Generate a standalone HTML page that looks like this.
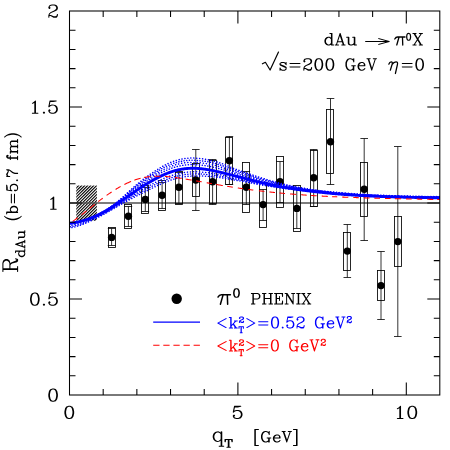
<!DOCTYPE html><html><head><meta charset="utf-8"><style>html,body{margin:0;padding:0;background:#fff;}svg{display:block;font-family:"Liberation Serif",serif;}</style></head><body>
<svg width="450" height="450" viewBox="0 0 450 450">
<rect width="450" height="450" fill="#fff"/>
<defs><clipPath id="hc"><rect x="76.2" y="185.5" width="20.7" height="35.3"/></clipPath></defs>
<g clip-path="url(#hc)" stroke="#000" stroke-width="1.1">
<line x1="-43.80" y1="221" x2="-7.80" y2="185"/>
<line x1="-40.80" y1="221" x2="-4.80" y2="185"/>
<line x1="-37.80" y1="221" x2="-1.80" y2="185"/>
<line x1="-34.80" y1="221" x2="1.20" y2="185"/>
<line x1="-31.80" y1="221" x2="4.20" y2="185"/>
<line x1="-28.80" y1="221" x2="7.20" y2="185"/>
<line x1="-25.80" y1="221" x2="10.20" y2="185"/>
<line x1="-22.80" y1="221" x2="13.20" y2="185"/>
<line x1="-19.80" y1="221" x2="16.20" y2="185"/>
<line x1="-16.80" y1="221" x2="19.20" y2="185"/>
<line x1="-13.80" y1="221" x2="22.20" y2="185"/>
<line x1="-10.80" y1="221" x2="25.20" y2="185"/>
<line x1="-7.80" y1="221" x2="28.20" y2="185"/>
<line x1="-4.80" y1="221" x2="31.20" y2="185"/>
<line x1="-1.80" y1="221" x2="34.20" y2="185"/>
<line x1="1.20" y1="221" x2="37.20" y2="185"/>
<line x1="4.20" y1="221" x2="40.20" y2="185"/>
<line x1="7.20" y1="221" x2="43.20" y2="185"/>
<line x1="10.20" y1="221" x2="46.20" y2="185"/>
<line x1="13.20" y1="221" x2="49.20" y2="185"/>
<line x1="16.20" y1="221" x2="52.20" y2="185"/>
<line x1="19.20" y1="221" x2="55.20" y2="185"/>
<line x1="22.20" y1="221" x2="58.20" y2="185"/>
<line x1="25.20" y1="221" x2="61.20" y2="185"/>
<line x1="28.20" y1="221" x2="64.20" y2="185"/>
<line x1="31.20" y1="221" x2="67.20" y2="185"/>
<line x1="34.20" y1="221" x2="70.20" y2="185"/>
<line x1="37.20" y1="221" x2="73.20" y2="185"/>
<line x1="40.20" y1="221" x2="76.20" y2="185"/>
<line x1="43.20" y1="221" x2="79.20" y2="185"/>
<line x1="46.20" y1="221" x2="82.20" y2="185"/>
<line x1="49.20" y1="221" x2="85.20" y2="185"/>
<line x1="52.20" y1="221" x2="88.20" y2="185"/>
<line x1="55.20" y1="221" x2="91.20" y2="185"/>
<line x1="58.20" y1="221" x2="94.20" y2="185"/>
<line x1="61.20" y1="221" x2="97.20" y2="185"/>
<line x1="64.20" y1="221" x2="100.20" y2="185"/>
<line x1="67.20" y1="221" x2="103.20" y2="185"/>
<line x1="70.20" y1="221" x2="106.20" y2="185"/>
<line x1="73.20" y1="221" x2="109.20" y2="185"/>
<line x1="76.20" y1="221" x2="112.20" y2="185"/>
<line x1="79.20" y1="221" x2="115.20" y2="185"/>
<line x1="82.20" y1="221" x2="118.20" y2="185"/>
<line x1="85.20" y1="221" x2="121.20" y2="185"/>
<line x1="88.20" y1="221" x2="124.20" y2="185"/>
<line x1="91.20" y1="221" x2="127.20" y2="185"/>
<line x1="94.20" y1="221" x2="130.20" y2="185"/>
<line x1="97.20" y1="221" x2="133.20" y2="185"/>
<line x1="100.20" y1="221" x2="136.20" y2="185"/>
<line x1="103.20" y1="221" x2="139.20" y2="185"/>
<line x1="106.20" y1="221" x2="142.20" y2="185"/>
<line x1="109.20" y1="221" x2="145.20" y2="185"/>
<line x1="112.20" y1="221" x2="148.20" y2="185"/>
<line x1="115.20" y1="221" x2="151.20" y2="185"/>
<line x1="118.20" y1="221" x2="154.20" y2="185"/>
<line x1="121.20" y1="221" x2="157.20" y2="185"/>
<line x1="124.20" y1="221" x2="160.20" y2="185"/>
<line x1="127.20" y1="221" x2="163.20" y2="185"/>
<line x1="130.20" y1="221" x2="166.20" y2="185"/>
<line x1="133.20" y1="221" x2="169.20" y2="185"/>
<line x1="136.20" y1="221" x2="172.20" y2="185"/>
<line x1="139.20" y1="221" x2="175.20" y2="185"/>
<line x1="142.20" y1="221" x2="178.20" y2="185"/>
<line x1="145.20" y1="221" x2="181.20" y2="185"/>
<line x1="148.20" y1="221" x2="184.20" y2="185"/>
<line x1="151.20" y1="221" x2="187.20" y2="185"/>
<line x1="154.20" y1="221" x2="190.20" y2="185"/>
<line x1="157.20" y1="221" x2="193.20" y2="185"/>
<line x1="160.20" y1="221" x2="196.20" y2="185"/>
<line x1="163.20" y1="221" x2="199.20" y2="185"/>
<line x1="166.20" y1="221" x2="202.20" y2="185"/>
<line x1="169.20" y1="221" x2="205.20" y2="185"/>
<line x1="172.20" y1="221" x2="208.20" y2="185"/>
<line x1="175.20" y1="221" x2="211.20" y2="185"/>
<line x1="178.20" y1="221" x2="214.20" y2="185"/>
<line x1="181.20" y1="221" x2="217.20" y2="185"/>
<line x1="184.20" y1="221" x2="220.20" y2="185"/>
<line x1="187.20" y1="221" x2="223.20" y2="185"/>
<line x1="190.20" y1="221" x2="226.20" y2="185"/>
<line x1="193.20" y1="221" x2="229.20" y2="185"/>
</g>
<line x1="69.5" y1="203" x2="439.8" y2="203" stroke="#505050" stroke-width="1.3"/>
<g stroke="#000" stroke-width="0.85" fill="none">
<rect x="108.5" y="227.5" width="7" height="20.0"/>
<path stroke-width="0.8" d="M111.60,228.5 V245.5 M107.80,228.5 h7.6 M107.80,245.5 h7.6"/>
<rect x="124.5" y="204.5" width="7" height="24.0"/>
<path stroke-width="0.8" d="M128.40,206.5 V226.5 M124.60,206.5 h7.6 M124.60,226.5 h7.6"/>
<rect x="141.5" y="185.5" width="7" height="28.0"/>
<path stroke-width="0.8" d="M145.30,187.5 V211.5 M141.50,187.5 h7.6 M141.50,211.5 h7.6"/>
<rect x="158.5" y="180.5" width="7" height="30.0"/>
<path stroke-width="0.8" d="M162.10,182.5 V208.5 M158.30,182.5 h7.6 M158.30,208.5 h7.6"/>
<rect x="175.5" y="171.5" width="7" height="33.0"/>
<path stroke-width="0.8" d="M178.90,172.5 V203.5 M175.10,172.5 h7.6 M175.10,203.5 h7.6"/>
<rect x="192.5" y="163.5" width="7" height="33.0"/>
<path stroke-width="0.8" d="M195.80,149.5 V210.5 M192.00,149.5 h7.6 M192.00,210.5 h7.6"/>
<rect x="209.5" y="160.5" width="7" height="43.0"/>
<path stroke-width="0.8" d="M212.60,159.5 V204.5 M208.80,159.5 h7.6 M208.80,204.5 h7.6"/>
<rect x="225.5" y="137.5" width="7" height="47.0"/>
<path stroke-width="0.8" d="M229.40,136.5 V184.5 M225.60,136.5 h7.6 M225.60,184.5 h7.6"/>
<rect x="242.5" y="162.5" width="7" height="50.0"/>
<path stroke-width="0.8" d="M246.30,171.5 V204.5 M242.50,171.5 h7.6 M242.50,204.5 h7.6"/>
<rect x="259.5" y="182.5" width="7" height="45.0"/>
<path stroke-width="0.8" d="M263.10,189.5 V220.5 M259.30,189.5 h7.6 M259.30,220.5 h7.6"/>
<rect x="276.5" y="156.5" width="7" height="51.0"/>
<path stroke-width="0.8" d="M280.00,161.5 V202.5 M276.20,161.5 h7.6 M276.20,202.5 h7.6"/>
<rect x="293.5" y="185.5" width="7" height="46.0"/>
<path stroke-width="0.8" d="M296.80,188.5 V228.5 M293.00,188.5 h7.6 M293.00,228.5 h7.6"/>
<rect x="310.5" y="150.5" width="7" height="56.0"/>
<path stroke-width="0.8" d="M313.70,149.5 V206.5 M309.90,149.5 h7.6 M309.90,206.5 h7.6"/>
<rect x="326.5" y="109.5" width="7" height="64.0"/>
<path stroke-width="0.8" d="M330.50,98.5 V184.5 M326.70,98.5 h7.6 M326.70,184.5 h7.6"/>
<rect x="343.5" y="232.5" width="7" height="38.0"/>
<path stroke-width="0.8" d="M347.30,224.5 V277.5 M343.50,224.5 h7.6 M343.50,277.5 h7.6"/>
<rect x="360.5" y="162.5" width="7" height="54.0"/>
<path stroke-width="0.8" d="M364.20,138.5 V240.5 M360.40,138.5 h7.6 M360.40,240.5 h7.6"/>
<rect x="377.5" y="270.5" width="7" height="30.0"/>
<path stroke-width="0.8" d="M381.00,251.5 V319.5 M377.20,251.5 h7.6 M377.20,319.5 h7.6"/>
<rect x="394.5" y="216.5" width="7" height="50.0"/>
<path stroke-width="0.8" d="M397.80,146.5 V336.5 M394.00,146.5 h7.6 M394.00,336.5 h7.6"/>
</g>
<circle cx="111.60" cy="237.40" r="3.7" fill="#000"/>
<circle cx="128.40" cy="216.30" r="3.7" fill="#000"/>
<circle cx="145.30" cy="199.40" r="3.7" fill="#000"/>
<circle cx="162.10" cy="195.20" r="3.7" fill="#000"/>
<circle cx="178.90" cy="187.30" r="3.7" fill="#000"/>
<circle cx="195.80" cy="180.00" r="3.7" fill="#000"/>
<circle cx="212.60" cy="181.70" r="3.7" fill="#000"/>
<circle cx="229.40" cy="160.70" r="3.7" fill="#000"/>
<circle cx="246.30" cy="187.30" r="3.7" fill="#000"/>
<circle cx="263.10" cy="204.60" r="3.7" fill="#000"/>
<circle cx="280.00" cy="181.70" r="3.7" fill="#000"/>
<circle cx="296.80" cy="208.40" r="3.7" fill="#000"/>
<circle cx="313.70" cy="177.80" r="3.7" fill="#000"/>
<circle cx="330.50" cy="141.80" r="3.7" fill="#000"/>
<circle cx="347.30" cy="251.10" r="3.7" fill="#000"/>
<circle cx="364.20" cy="189.30" r="3.7" fill="#000"/>
<circle cx="381.00" cy="285.60" r="3.7" fill="#000"/>
<circle cx="397.80" cy="241.60" r="3.7" fill="#000"/>
<defs><clipPath id="pc"><rect x="69.5" y="11.0" width="370.3" height="384.0"/></clipPath></defs>
<g clip-path="url(#pc)" fill="none">
<path d="M69.50,223.43 L70.24,223.34 L70.99,223.25 L71.73,223.15 L72.47,223.04 L73.21,222.92 L73.96,222.80 L74.70,222.67 L75.44,222.53 L76.18,222.38 L76.93,222.23 L77.67,222.07 L78.41,221.90 L79.15,221.72 L79.90,221.54 L80.64,221.35 L81.38,221.15 L82.13,220.94 L82.87,220.73 L83.61,220.51 L84.35,220.28 L85.10,220.04 L85.84,219.80 L86.58,219.55 L87.32,219.29 L88.07,219.03 L88.81,218.76 L89.55,218.48 L90.30,218.19 L91.04,217.90 L91.78,217.60 L92.52,217.29 L93.27,216.98 L94.01,216.66 L94.75,216.33 L95.49,216.00 L96.24,215.66 L96.98,215.31 L97.72,214.95 L98.46,214.59 L99.21,214.22 L99.95,213.85 L100.69,213.47 L101.44,213.07 L102.18,212.67 L102.92,212.27 L103.66,211.85 L104.41,211.42 L105.15,210.99 L105.89,210.55 L106.63,210.10 L107.38,209.65 L108.12,209.19 L108.86,208.72 L109.61,208.25 L110.35,207.77 L111.09,207.28 L111.83,206.79 L112.58,206.30 L113.32,205.80 L114.06,205.29 L114.80,204.78 L115.55,204.26 L116.29,203.74 L117.03,203.21 L117.77,202.68 L118.52,202.15 L119.26,201.61 L120.00,201.06 L120.75,200.51 L121.49,199.96 L122.23,199.40 L122.97,198.84 L123.72,198.27 L124.46,197.70 L125.20,197.12 L125.94,196.54 L126.69,195.96 L127.43,195.38 L128.17,194.80 L128.91,194.22 L129.66,193.64 L130.40,193.07 L131.14,192.50 L131.89,191.93 L132.63,191.37 L133.37,190.81 L134.11,190.26 L134.86,189.70 L135.60,189.15 L136.34,188.60 L137.08,188.06 L137.83,187.51 L138.57,186.97 L139.31,186.44 L140.06,185.91 L140.80,185.38 L141.54,184.86 L142.28,184.34 L143.03,183.82 L143.77,183.31 L144.51,182.81 L145.25,182.31 L146.00,181.81 L146.74,181.32 L147.48,180.84 L148.22,180.36 L148.97,179.88 L149.71,179.42 L150.45,178.95 L151.20,178.49 L151.94,178.04 L152.68,177.59 L153.42,177.15 L154.17,176.71 L154.91,176.27 L155.65,175.84 L156.39,175.42 L157.14,175.00 L157.88,174.58 L158.62,174.17 L159.36,173.77 L160.11,173.37 L160.85,172.98 L161.59,172.60 L162.34,172.22 L163.08,171.86 L163.82,171.50 L164.56,171.15 L165.31,170.80 L166.05,170.47 L166.79,170.15 L167.53,169.84 L168.28,169.53 L169.02,169.23 L169.76,168.94 L170.51,168.66 L171.25,168.39 L171.99,168.13 L172.73,167.87 L173.48,167.63 L174.22,167.39 L174.96,167.16 L175.70,166.95 L176.45,166.74 L177.19,166.54 L177.93,166.35 L178.67,166.18 L179.42,166.01 L180.16,165.85 L180.90,165.70 L181.65,165.56 L182.39,165.42 L183.13,165.30 L183.87,165.19 L184.62,165.09 L185.36,165.00 L186.10,164.92 L186.84,164.85 L187.59,164.78 L188.33,164.73 L189.07,164.69 L189.82,164.66 L190.56,164.63 L191.30,164.61 L192.04,164.61 L192.79,164.61 L193.53,164.61 L194.27,164.63 L195.01,164.65 L195.76,164.68 L196.50,164.72 L197.24,164.77 L197.98,164.82 L198.73,164.87 L199.47,164.94 L200.21,165.01 L200.96,165.09 L201.70,165.17 L202.44,165.26 L203.18,165.35 L203.93,165.46 L204.67,165.56 L205.41,165.68 L206.15,165.79 L206.90,165.92 L207.64,166.05 L208.38,166.18 L209.12,166.32 L209.87,166.46 L210.61,166.61 L211.35,166.76 L212.10,166.91 L212.84,167.07 L213.58,167.24 L214.32,167.41 L215.07,167.58 L215.81,167.76 L216.55,167.95 L217.29,168.13 L218.04,168.32 L218.78,168.52 L219.52,168.71 L220.27,168.91 L221.01,169.12 L221.75,169.32 L222.49,169.53 L223.24,169.74 L223.98,169.95 L224.72,170.17 L225.46,170.39 L226.21,170.62 L226.95,170.86 L227.69,171.09 L228.43,171.33 L229.18,171.57 L229.92,171.81 L230.66,172.04 L231.41,172.28 L232.15,172.51 L232.89,172.75 L233.63,172.97 L234.38,173.20 L235.12,173.42 L235.86,173.63 L236.60,173.85 L237.35,174.07 L238.09,174.28 L238.83,174.50 L239.57,174.71 L240.32,174.92 L241.06,175.13 L241.80,175.35 L242.55,175.56 L243.29,175.77 L244.03,175.98 L244.77,176.20 L245.52,176.41 L246.26,176.62 L247.00,176.84 L247.74,177.05 L248.49,177.27 L249.23,177.48 L249.97,177.69 L250.72,177.91 L251.46,178.12 L252.20,178.33 L252.94,178.54 L253.69,178.75 L254.43,178.96 L255.17,179.17 L255.91,179.38 L256.66,179.58 L257.40,179.79 L258.14,179.99 L258.88,180.19 L259.63,180.39 L260.37,180.59 L261.11,180.79 L261.86,180.99 L262.60,181.18 L263.34,181.38 L264.08,181.57 L264.83,181.76 L265.57,181.95 L266.31,182.14 L267.05,182.33 L267.80,182.51 L268.54,182.69 L269.28,182.88 L270.03,183.06 L270.77,183.23 L271.51,183.41 L272.25,183.59 L273.00,183.76 L273.74,183.93 L274.48,184.10 L275.22,184.27 L275.97,184.44 L276.71,184.60 L277.45,184.76 L278.19,184.92 L278.94,185.08 L279.68,185.24 L280.42,185.39 L281.17,185.55 L281.91,185.70 L282.65,185.85 L283.39,186.00 L284.14,186.15 L284.88,186.29 L285.62,186.44 L286.36,186.58 L287.11,186.72 L287.85,186.87 L288.59,187.01 L289.33,187.14 L290.08,187.28 L290.82,187.41 L291.56,187.55 L292.31,187.68 L293.05,187.81 L293.79,187.94 L294.53,188.07 L295.28,188.19 L296.02,188.32 L296.76,188.44 L297.50,188.56 L298.25,188.68 L298.99,188.80 L299.73,188.91 L300.48,189.03 L301.22,189.14 L301.96,189.25 L302.70,189.36 L303.45,189.47 L304.19,189.58 L304.93,189.69 L305.67,189.79 L306.42,189.90 L307.16,190.00 L307.90,190.10 L308.64,190.21 L309.39,190.31 L310.13,190.41 L310.87,190.50 L311.62,190.60 L312.36,190.70 L313.10,190.79 L313.84,190.88 L314.59,190.98 L315.33,191.07 L316.07,191.16 L316.81,191.25 L317.56,191.34 L318.30,191.43 L319.04,191.51 L319.78,191.60 L320.53,191.68 L321.27,191.77 L322.01,191.85 L322.76,191.93 L323.50,192.01 L324.24,192.09 L324.98,192.17 L325.73,192.25 L326.47,192.32 L327.21,192.40 L327.95,192.48 L328.70,192.55 L329.44,192.63 L330.18,192.70 L330.93,192.77 L331.67,192.84 L332.41,192.91 L333.15,192.98 L333.90,193.05 L334.64,193.12 L335.38,193.19 L336.12,193.25 L336.87,193.32 L337.61,193.38 L338.35,193.45 L339.09,193.51 L339.84,193.57 L340.58,193.63 L341.32,193.70 L342.07,193.76 L342.81,193.81 L343.55,193.87 L344.29,193.93 L345.04,193.99 L345.78,194.04 L346.52,194.10 L347.26,194.15 L348.01,194.21 L348.75,194.26 L349.49,194.31 L350.24,194.37 L350.98,194.42 L351.72,194.47 L352.46,194.52 L353.21,194.57 L353.95,194.62 L354.69,194.67 L355.43,194.71 L356.18,194.76 L356.92,194.81 L357.66,194.85 L358.40,194.90 L359.15,194.94 L359.89,194.99 L360.63,195.03 L361.38,195.07 L362.12,195.12 L362.86,195.16 L363.60,195.20 L364.35,195.24 L365.09,195.28 L365.83,195.32 L366.57,195.36 L367.32,195.40 L368.06,195.44 L368.80,195.48 L369.54,195.51 L370.29,195.55 L371.03,195.59 L371.77,195.62 L372.52,195.66 L373.26,195.69 L374.00,195.73 L374.74,195.76 L375.49,195.79 L376.23,195.83 L376.97,195.86 L377.71,195.89 L378.46,195.92 L379.20,195.95 L379.94,195.98 L380.69,196.01 L381.43,196.04 L382.17,196.07 L382.91,196.10 L383.66,196.13 L384.40,196.16 L385.14,196.18 L385.88,196.21 L386.63,196.24 L387.37,196.26 L388.11,196.29 L388.85,196.31 L389.60,196.34 L390.34,196.36 L391.08,196.39 L391.83,196.41 L392.57,196.44 L393.31,196.46 L394.05,196.48 L394.80,196.50 L395.54,196.53 L396.28,196.55 L397.02,196.57 L397.77,196.59 L398.51,196.61 L399.25,196.63 L399.99,196.65 L400.74,196.67 L401.48,196.69 L402.22,196.71 L402.97,196.73 L403.71,196.75 L404.45,196.77 L405.19,196.78 L405.94,196.80 L406.68,196.82 L407.42,196.84 L408.16,196.85 L408.91,196.87 L409.65,196.89 L410.39,196.90 L411.14,196.92 L411.88,196.93 L412.62,196.95 L413.36,196.96 L414.11,196.98 L414.85,196.99 L415.59,197.01 L416.33,197.02 L417.08,197.04 L417.82,197.05 L418.56,197.06 L419.30,197.08 L420.05,197.09 L420.79,197.10 L421.53,197.12 L422.28,197.13 L423.02,197.14 L423.76,197.15 L424.50,197.17 L425.25,197.18 L425.99,197.19 L426.73,197.20 L427.47,197.21 L428.22,197.22 L428.96,197.24 L429.70,197.25 L430.45,197.26 L431.19,197.27 L431.93,197.28 L432.67,197.29 L433.42,197.30 L434.16,197.31 L434.90,197.32 L435.64,197.33 L436.39,197.34 L437.13,197.35 L437.87,197.36 L438.61,197.37 L439.36,197.38 L440.10,197.39" stroke="#0000ff" stroke-width="1.5" stroke-linecap="round" stroke-dasharray="0.1,2.7" stroke-dashoffset="0.0"/>
<path d="M69.50,223.43 L70.24,223.34 L70.99,223.25 L71.73,223.15 L72.47,223.04 L73.21,222.92 L73.96,222.80 L74.70,222.66 L75.44,222.52 L76.18,222.38 L76.93,222.22 L77.67,222.06 L78.41,221.89 L79.15,221.71 L79.90,221.52 L80.64,221.33 L81.38,221.13 L82.13,220.92 L82.87,220.70 L83.61,220.48 L84.35,220.25 L85.10,220.01 L85.84,219.77 L86.58,219.51 L87.32,219.25 L88.07,218.98 L88.81,218.71 L89.55,218.43 L90.30,218.14 L91.04,217.84 L91.78,217.54 L92.52,217.23 L93.27,216.91 L94.01,216.59 L94.75,216.25 L95.49,215.92 L96.24,215.57 L96.98,215.22 L97.72,214.86 L98.46,214.49 L99.21,214.12 L99.95,213.74 L100.69,213.35 L101.44,212.95 L102.18,212.54 L102.92,212.13 L103.66,211.70 L104.41,211.26 L105.15,210.82 L105.89,210.37 L106.63,209.90 L107.38,209.44 L108.12,208.96 L108.86,208.48 L109.61,207.99 L110.35,207.49 L111.09,206.99 L111.83,206.49 L112.58,205.98 L113.32,205.46 L114.06,204.94 L114.80,204.40 L115.55,203.87 L116.29,203.32 L117.03,202.77 L117.77,202.22 L118.52,201.66 L119.26,201.09 L120.00,200.53 L120.75,199.95 L121.49,199.37 L122.23,198.78 L122.97,198.19 L123.72,197.58 L124.46,196.97 L125.20,196.36 L125.94,195.74 L126.69,195.12 L127.43,194.50 L128.17,193.88 L128.91,193.26 L129.66,192.65 L130.40,192.04 L131.14,191.43 L131.89,190.84 L132.63,190.25 L133.37,189.66 L134.11,189.08 L134.86,188.49 L135.60,187.92 L136.34,187.34 L137.08,186.77 L137.83,186.20 L138.57,185.64 L139.31,185.08 L140.06,184.53 L140.80,183.98 L141.54,183.43 L142.28,182.89 L143.03,182.36 L143.77,181.82 L144.51,181.30 L145.25,180.78 L146.00,180.27 L146.74,179.76 L147.48,179.26 L148.22,178.76 L148.97,178.27 L149.71,177.78 L150.45,177.30 L151.20,176.82 L151.94,176.35 L152.68,175.89 L153.42,175.42 L154.17,174.97 L154.91,174.52 L155.65,174.07 L156.39,173.62 L157.14,173.18 L157.88,172.75 L158.62,172.32 L159.36,171.89 L160.11,171.47 L160.85,171.06 L161.59,170.66 L162.34,170.26 L163.08,169.87 L163.82,169.50 L164.56,169.13 L165.31,168.77 L166.05,168.42 L166.79,168.08 L167.53,167.76 L168.28,167.44 L169.02,167.13 L169.76,166.83 L170.51,166.54 L171.25,166.26 L171.99,165.99 L172.73,165.72 L173.48,165.47 L174.22,165.22 L174.96,164.99 L175.70,164.76 L176.45,164.55 L177.19,164.35 L177.93,164.15 L178.67,163.97 L179.42,163.80 L180.16,163.63 L180.90,163.48 L181.65,163.33 L182.39,163.20 L183.13,163.07 L183.87,162.96 L184.62,162.86 L185.36,162.76 L186.10,162.68 L186.84,162.60 L187.59,162.54 L188.33,162.49 L189.07,162.45 L189.82,162.41 L190.56,162.39 L191.30,162.37 L192.04,162.36 L192.79,162.37 L193.53,162.37 L194.27,162.39 L195.01,162.42 L195.76,162.45 L196.50,162.49 L197.24,162.53 L197.98,162.59 L198.73,162.65 L199.47,162.71 L200.21,162.79 L200.96,162.86 L201.70,162.95 L202.44,163.04 L203.18,163.14 L203.93,163.24 L204.67,163.36 L205.41,163.47 L206.15,163.59 L206.90,163.72 L207.64,163.85 L208.38,163.99 L209.12,164.14 L209.87,164.28 L210.61,164.44 L211.35,164.60 L212.10,164.76 L212.84,164.92 L213.58,165.10 L214.32,165.28 L215.07,165.46 L215.81,165.65 L216.55,165.85 L217.29,166.05 L218.04,166.26 L218.78,166.46 L219.52,166.68 L220.27,166.89 L221.01,167.11 L221.75,167.33 L222.49,167.56 L223.24,167.78 L223.98,168.02 L224.72,168.26 L225.46,168.51 L226.21,168.77 L226.95,169.03 L227.69,169.30 L228.43,169.57 L229.18,169.84 L229.92,170.11 L230.66,170.38 L231.41,170.64 L232.15,170.90 L232.89,171.16 L233.63,171.41 L234.38,171.66 L235.12,171.89 L235.86,172.13 L236.60,172.36 L237.35,172.59 L238.09,172.82 L238.83,173.05 L239.57,173.28 L240.32,173.50 L241.06,173.73 L241.80,173.95 L242.55,174.18 L243.29,174.40 L244.03,174.63 L244.77,174.85 L245.52,175.08 L246.26,175.31 L247.00,175.54 L247.74,175.77 L248.49,176.00 L249.23,176.23 L249.97,176.45 L250.72,176.68 L251.46,176.91 L252.20,177.14 L252.94,177.36 L253.69,177.59 L254.43,177.81 L255.17,178.03 L255.91,178.26 L256.66,178.48 L257.40,178.69 L258.14,178.91 L258.88,179.13 L259.63,179.34 L260.37,179.56 L261.11,179.77 L261.86,179.98 L262.60,180.19 L263.34,180.40 L264.08,180.60 L264.83,180.81 L265.57,181.01 L266.31,181.21 L267.05,181.41 L267.80,181.61 L268.54,181.80 L269.28,182.00 L270.03,182.19 L270.77,182.38 L271.51,182.57 L272.25,182.76 L273.00,182.94 L273.74,183.13 L274.48,183.31 L275.22,183.49 L275.97,183.67 L276.71,183.84 L277.45,184.01 L278.19,184.19 L278.94,184.35 L279.68,184.52 L280.42,184.69 L281.17,184.85 L281.91,185.01 L282.65,185.17 L283.39,185.33 L284.14,185.49 L284.88,185.65 L285.62,185.80 L286.36,185.96 L287.11,186.11 L287.85,186.26 L288.59,186.41 L289.33,186.55 L290.08,186.70 L290.82,186.84 L291.56,186.99 L292.31,187.13 L293.05,187.26 L293.79,187.40 L294.53,187.54 L295.28,187.67 L296.02,187.80 L296.76,187.93 L297.50,188.06 L298.25,188.19 L298.99,188.31 L299.73,188.44 L300.48,188.56 L301.22,188.68 L301.96,188.79 L302.70,188.91 L303.45,189.02 L304.19,189.13 L304.93,189.25 L305.67,189.36 L306.42,189.47 L307.16,189.57 L307.90,189.68 L308.64,189.79 L309.39,189.89 L310.13,189.99 L310.87,190.10 L311.62,190.20 L312.36,190.30 L313.10,190.40 L313.84,190.49 L314.59,190.59 L315.33,190.68 L316.07,190.78 L316.81,190.87 L317.56,190.96 L318.30,191.05 L319.04,191.14 L319.78,191.23 L320.53,191.32 L321.27,191.41 L322.01,191.49 L322.76,191.57 L323.50,191.66 L324.24,191.74 L324.98,191.82 L325.73,191.90 L326.47,191.98 L327.21,192.06 L327.95,192.14 L328.70,192.21 L329.44,192.29 L330.18,192.36 L330.93,192.44 L331.67,192.51 L332.41,192.58 L333.15,192.65 L333.90,192.73 L334.64,192.79 L335.38,192.86 L336.12,192.93 L336.87,193.00 L337.61,193.07 L338.35,193.13 L339.09,193.20 L339.84,193.26 L340.58,193.32 L341.32,193.38 L342.07,193.44 L342.81,193.50 L343.55,193.56 L344.29,193.62 L345.04,193.68 L345.78,193.74 L346.52,193.79 L347.26,193.85 L348.01,193.90 L348.75,193.96 L349.49,194.01 L350.24,194.06 L350.98,194.11 L351.72,194.17 L352.46,194.22 L353.21,194.27 L353.95,194.32 L354.69,194.37 L355.43,194.41 L356.18,194.46 L356.92,194.51 L357.66,194.56 L358.40,194.60 L359.15,194.65 L359.89,194.69 L360.63,194.74 L361.38,194.78 L362.12,194.82 L362.86,194.87 L363.60,194.91 L364.35,194.95 L365.09,194.99 L365.83,195.03 L366.57,195.07 L367.32,195.11 L368.06,195.15 L368.80,195.19 L369.54,195.22 L370.29,195.26 L371.03,195.30 L371.77,195.33 L372.52,195.37 L373.26,195.41 L374.00,195.44 L374.74,195.47 L375.49,195.51 L376.23,195.54 L376.97,195.57 L377.71,195.61 L378.46,195.64 L379.20,195.67 L379.94,195.70 L380.69,195.73 L381.43,195.76 L382.17,195.79 L382.91,195.82 L383.66,195.85 L384.40,195.88 L385.14,195.90 L385.88,195.93 L386.63,195.96 L387.37,195.98 L388.11,196.01 L388.85,196.04 L389.60,196.06 L390.34,196.09 L391.08,196.11 L391.83,196.14 L392.57,196.16 L393.31,196.18 L394.05,196.21 L394.80,196.23 L395.54,196.25 L396.28,196.27 L397.02,196.30 L397.77,196.32 L398.51,196.34 L399.25,196.36 L399.99,196.38 L400.74,196.40 L401.48,196.42 L402.22,196.44 L402.97,196.46 L403.71,196.48 L404.45,196.50 L405.19,196.51 L405.94,196.53 L406.68,196.55 L407.42,196.57 L408.16,196.58 L408.91,196.60 L409.65,196.62 L410.39,196.63 L411.14,196.65 L411.88,196.67 L412.62,196.68 L413.36,196.70 L414.11,196.71 L414.85,196.73 L415.59,196.74 L416.33,196.76 L417.08,196.77 L417.82,196.78 L418.56,196.80 L419.30,196.81 L420.05,196.82 L420.79,196.84 L421.53,196.85 L422.28,196.86 L423.02,196.88 L423.76,196.89 L424.50,196.90 L425.25,196.91 L425.99,196.93 L426.73,196.94 L427.47,196.95 L428.22,196.96 L428.96,196.97 L429.70,196.98 L430.45,196.99 L431.19,197.00 L431.93,197.02 L432.67,197.03 L433.42,197.04 L434.16,197.05 L434.90,197.06 L435.64,197.07 L436.39,197.08 L437.13,197.09 L437.87,197.10 L438.61,197.11 L439.36,197.12 L440.10,197.13" stroke="#0000ff" stroke-width="1.5" stroke-linecap="round" stroke-dasharray="0.1,3.0" stroke-dashoffset="1.3"/>
<path d="M69.50,223.43 L70.24,223.34 L70.99,223.25 L71.73,223.15 L72.47,223.04 L73.21,222.92 L73.96,222.79 L74.70,222.66 L75.44,222.52 L76.18,222.37 L76.93,222.21 L77.67,222.05 L78.41,221.88 L79.15,221.70 L79.90,221.51 L80.64,221.31 L81.38,221.11 L82.13,220.90 L82.87,220.68 L83.61,220.46 L84.35,220.22 L85.10,219.98 L85.84,219.73 L86.58,219.48 L87.32,219.21 L88.07,218.94 L88.81,218.66 L89.55,218.38 L90.30,218.09 L91.04,217.79 L91.78,217.48 L92.52,217.17 L93.27,216.84 L94.01,216.52 L94.75,216.18 L95.49,215.84 L96.24,215.49 L96.98,215.13 L97.72,214.77 L98.46,214.40 L99.21,214.02 L99.95,213.63 L100.69,213.24 L101.44,212.84 L102.18,212.42 L102.92,211.99 L103.66,211.56 L104.41,211.11 L105.15,210.65 L105.89,210.19 L106.63,209.72 L107.38,209.23 L108.12,208.74 L108.86,208.25 L109.61,207.74 L110.35,207.23 L111.09,206.72 L111.83,206.20 L112.58,205.67 L113.32,205.14 L114.06,204.60 L114.80,204.05 L115.55,203.49 L116.29,202.93 L117.03,202.35 L117.77,201.78 L118.52,201.20 L119.26,200.61 L120.00,200.01 L120.75,199.41 L121.49,198.81 L122.23,198.19 L122.97,197.56 L123.72,196.93 L124.46,196.28 L125.20,195.63 L125.94,194.97 L126.69,194.32 L127.43,193.66 L128.17,193.00 L128.91,192.35 L129.66,191.70 L130.40,191.05 L131.14,190.42 L131.89,189.79 L132.63,189.17 L133.37,188.56 L134.11,187.95 L134.86,187.34 L135.60,186.74 L136.34,186.14 L137.08,185.55 L137.83,184.96 L138.57,184.37 L139.31,183.79 L140.06,183.21 L140.80,182.64 L141.54,182.07 L142.28,181.51 L143.03,180.96 L143.77,180.40 L144.51,179.86 L145.25,179.32 L146.00,178.79 L146.74,178.27 L147.48,177.75 L148.22,177.23 L148.97,176.72 L149.71,176.22 L150.45,175.72 L151.20,175.23 L151.94,174.74 L152.68,174.26 L153.42,173.78 L154.17,173.31 L154.91,172.84 L155.65,172.37 L156.39,171.91 L157.14,171.45 L157.88,170.99 L158.62,170.54 L159.36,170.10 L160.11,169.66 L160.85,169.23 L161.59,168.80 L162.34,168.39 L163.08,167.98 L163.82,167.58 L164.56,167.20 L165.31,166.82 L166.05,166.46 L166.79,166.11 L167.53,165.78 L168.28,165.45 L169.02,165.13 L169.76,164.82 L170.51,164.52 L171.25,164.22 L171.99,163.94 L172.73,163.67 L173.48,163.41 L174.22,163.15 L174.96,162.91 L175.70,162.68 L176.45,162.46 L177.19,162.25 L177.93,162.05 L178.67,161.87 L179.42,161.69 L180.16,161.52 L180.90,161.36 L181.65,161.21 L182.39,161.08 L183.13,160.95 L183.87,160.83 L184.62,160.72 L185.36,160.63 L186.10,160.54 L186.84,160.47 L187.59,160.40 L188.33,160.35 L189.07,160.30 L189.82,160.27 L190.56,160.25 L191.30,160.23 L192.04,160.22 L192.79,160.23 L193.53,160.24 L194.27,160.25 L195.01,160.28 L195.76,160.31 L196.50,160.35 L197.24,160.40 L197.98,160.46 L198.73,160.52 L199.47,160.59 L200.21,160.66 L200.96,160.74 L201.70,160.83 L202.44,160.93 L203.18,161.03 L203.93,161.13 L204.67,161.25 L205.41,161.37 L206.15,161.49 L206.90,161.63 L207.64,161.76 L208.38,161.91 L209.12,162.06 L209.87,162.21 L210.61,162.37 L211.35,162.53 L212.10,162.70 L212.84,162.87 L213.58,163.06 L214.32,163.25 L215.07,163.44 L215.81,163.64 L216.55,163.85 L217.29,164.06 L218.04,164.28 L218.78,164.50 L219.52,164.73 L220.27,164.96 L221.01,165.20 L221.75,165.44 L222.49,165.68 L223.24,165.92 L223.98,166.17 L224.72,166.44 L225.46,166.72 L226.21,167.00 L226.95,167.29 L227.69,167.59 L228.43,167.89 L229.18,168.19 L229.92,168.49 L230.66,168.78 L231.41,169.08 L232.15,169.37 L232.89,169.65 L233.63,169.92 L234.38,170.18 L235.12,170.44 L235.86,170.69 L236.60,170.94 L237.35,171.19 L238.09,171.43 L238.83,171.67 L239.57,171.91 L240.32,172.15 L241.06,172.38 L241.80,172.62 L242.55,172.86 L243.29,173.10 L244.03,173.33 L244.77,173.57 L245.52,173.81 L246.26,174.05 L247.00,174.30 L247.74,174.54 L248.49,174.78 L249.23,175.03 L249.97,175.27 L250.72,175.51 L251.46,175.75 L252.20,176.00 L252.94,176.24 L253.69,176.48 L254.43,176.71 L255.17,176.95 L255.91,177.19 L256.66,177.42 L257.40,177.65 L258.14,177.88 L258.88,178.11 L259.63,178.34 L260.37,178.57 L261.11,178.79 L261.86,179.01 L262.60,179.24 L263.34,179.46 L264.08,179.68 L264.83,179.89 L265.57,180.11 L266.31,180.32 L267.05,180.53 L267.80,180.74 L268.54,180.95 L269.28,181.16 L270.03,181.36 L270.77,181.56 L271.51,181.76 L272.25,181.96 L273.00,182.16 L273.74,182.36 L274.48,182.55 L275.22,182.74 L275.97,182.93 L276.71,183.12 L277.45,183.30 L278.19,183.48 L278.94,183.66 L279.68,183.84 L280.42,184.01 L281.17,184.18 L281.91,184.36 L282.65,184.53 L283.39,184.70 L284.14,184.86 L284.88,185.03 L285.62,185.19 L286.36,185.36 L287.11,185.52 L287.85,185.68 L288.59,185.84 L289.33,185.99 L290.08,186.15 L290.82,186.30 L291.56,186.45 L292.31,186.60 L293.05,186.74 L293.79,186.89 L294.53,187.03 L295.28,187.17 L296.02,187.31 L296.76,187.45 L297.50,187.58 L298.25,187.72 L298.99,187.85 L299.73,187.98 L300.48,188.10 L301.22,188.23 L301.96,188.35 L302.70,188.47 L303.45,188.59 L304.19,188.71 L304.93,188.82 L305.67,188.94 L306.42,189.05 L307.16,189.17 L307.90,189.28 L308.64,189.39 L309.39,189.49 L310.13,189.60 L310.87,189.71 L311.62,189.81 L312.36,189.92 L313.10,190.02 L313.84,190.12 L314.59,190.22 L315.33,190.32 L316.07,190.41 L316.81,190.51 L317.56,190.60 L318.30,190.70 L319.04,190.79 L319.78,190.88 L320.53,190.97 L321.27,191.06 L322.01,191.15 L322.76,191.23 L323.50,191.32 L324.24,191.40 L324.98,191.49 L325.73,191.57 L326.47,191.65 L327.21,191.73 L327.95,191.81 L328.70,191.89 L329.44,191.97 L330.18,192.04 L330.93,192.12 L331.67,192.19 L332.41,192.27 L333.15,192.34 L333.90,192.41 L334.64,192.49 L335.38,192.56 L336.12,192.63 L336.87,192.69 L337.61,192.76 L338.35,192.83 L339.09,192.89 L339.84,192.96 L340.58,193.02 L341.32,193.09 L342.07,193.15 L342.81,193.21 L343.55,193.27 L344.29,193.33 L345.04,193.39 L345.78,193.44 L346.52,193.50 L347.26,193.56 L348.01,193.61 L348.75,193.67 L349.49,193.72 L350.24,193.77 L350.98,193.83 L351.72,193.88 L352.46,193.93 L353.21,193.98 L353.95,194.03 L354.69,194.08 L355.43,194.13 L356.18,194.18 L356.92,194.22 L357.66,194.27 L358.40,194.32 L359.15,194.36 L359.89,194.41 L360.63,194.45 L361.38,194.50 L362.12,194.54 L362.86,194.59 L363.60,194.63 L364.35,194.67 L365.09,194.71 L365.83,194.75 L366.57,194.79 L367.32,194.83 L368.06,194.87 L368.80,194.91 L369.54,194.95 L370.29,194.99 L371.03,195.02 L371.77,195.06 L372.52,195.10 L373.26,195.13 L374.00,195.17 L374.74,195.20 L375.49,195.24 L376.23,195.27 L376.97,195.30 L377.71,195.34 L378.46,195.37 L379.20,195.40 L379.94,195.43 L380.69,195.46 L381.43,195.49 L382.17,195.52 L382.91,195.55 L383.66,195.58 L384.40,195.61 L385.14,195.64 L385.88,195.67 L386.63,195.69 L387.37,195.72 L388.11,195.75 L388.85,195.77 L389.60,195.80 L390.34,195.82 L391.08,195.85 L391.83,195.87 L392.57,195.90 L393.31,195.92 L394.05,195.94 L394.80,195.97 L395.54,195.99 L396.28,196.01 L397.02,196.03 L397.77,196.06 L398.51,196.08 L399.25,196.10 L399.99,196.12 L400.74,196.14 L401.48,196.16 L402.22,196.18 L402.97,196.20 L403.71,196.22 L404.45,196.24 L405.19,196.26 L405.94,196.27 L406.68,196.29 L407.42,196.31 L408.16,196.33 L408.91,196.34 L409.65,196.36 L410.39,196.38 L411.14,196.39 L411.88,196.41 L412.62,196.43 L413.36,196.44 L414.11,196.46 L414.85,196.47 L415.59,196.49 L416.33,196.50 L417.08,196.52 L417.82,196.53 L418.56,196.54 L419.30,196.56 L420.05,196.57 L420.79,196.58 L421.53,196.60 L422.28,196.61 L423.02,196.62 L423.76,196.64 L424.50,196.65 L425.25,196.66 L425.99,196.67 L426.73,196.68 L427.47,196.70 L428.22,196.71 L428.96,196.72 L429.70,196.73 L430.45,196.74 L431.19,196.75 L431.93,196.76 L432.67,196.77 L433.42,196.78 L434.16,196.80 L434.90,196.81 L435.64,196.82 L436.39,196.83 L437.13,196.84 L437.87,196.85 L438.61,196.86 L439.36,196.87 L440.10,196.88" stroke="#0000ff" stroke-width="1.5" stroke-linecap="round" stroke-dasharray="0.1,2.55" stroke-dashoffset="2.6"/>
<path d="M69.50,223.43 L70.24,223.34 L70.99,223.25 L71.73,223.15 L72.47,223.04 L73.21,222.92 L73.96,222.79 L74.70,222.66 L75.44,222.52 L76.18,222.37 L76.93,222.21 L77.67,222.04 L78.41,221.87 L79.15,221.68 L79.90,221.50 L80.64,221.30 L81.38,221.09 L82.13,220.88 L82.87,220.66 L83.61,220.43 L84.35,220.19 L85.10,219.95 L85.84,219.70 L86.58,219.44 L87.32,219.17 L88.07,218.90 L88.81,218.62 L89.55,218.33 L90.30,218.04 L91.04,217.73 L91.78,217.42 L92.52,217.10 L93.27,216.78 L94.01,216.45 L94.75,216.11 L95.49,215.76 L96.24,215.41 L96.98,215.04 L97.72,214.68 L98.46,214.30 L99.21,213.92 L99.95,213.53 L100.69,213.13 L101.44,212.72 L102.18,212.30 L102.92,211.86 L103.66,211.41 L104.41,210.96 L105.15,210.49 L105.89,210.01 L106.63,209.53 L107.38,209.03 L108.12,208.53 L108.86,208.02 L109.61,207.50 L110.35,206.97 L111.09,206.44 L111.83,205.91 L112.58,205.37 L113.32,204.82 L114.06,204.26 L114.80,203.69 L115.55,203.11 L116.29,202.53 L117.03,201.94 L117.77,201.34 L118.52,200.73 L119.26,200.12 L120.00,199.50 L120.75,198.88 L121.49,198.25 L122.23,197.60 L122.97,196.94 L123.72,196.27 L124.46,195.59 L125.20,194.90 L125.94,194.21 L126.69,193.51 L127.43,192.82 L128.17,192.12 L128.91,191.43 L129.66,190.75 L130.40,190.07 L131.14,189.40 L131.89,188.75 L132.63,188.10 L133.37,187.46 L134.11,186.82 L134.86,186.19 L135.60,185.56 L136.34,184.94 L137.08,184.32 L137.83,183.71 L138.57,183.10 L139.31,182.49 L140.06,181.90 L140.80,181.30 L141.54,180.72 L142.28,180.13 L143.03,179.56 L143.77,178.99 L144.51,178.42 L145.25,177.87 L146.00,177.32 L146.74,176.77 L147.48,176.24 L148.22,175.70 L148.97,175.18 L149.71,174.66 L150.45,174.15 L151.20,173.64 L151.94,173.13 L152.68,172.63 L153.42,172.14 L154.17,171.65 L154.91,171.16 L155.65,170.68 L156.39,170.19 L157.14,169.71 L157.88,169.24 L158.62,168.77 L159.36,168.30 L160.11,167.84 L160.85,167.39 L161.59,166.95 L162.34,166.51 L163.08,166.09 L163.82,165.67 L164.56,165.27 L165.31,164.88 L166.05,164.50 L166.79,164.14 L167.53,163.79 L168.28,163.45 L169.02,163.12 L169.76,162.80 L170.51,162.49 L171.25,162.19 L171.99,161.90 L172.73,161.62 L173.48,161.34 L174.22,161.08 L174.96,160.84 L175.70,160.60 L176.45,160.37 L177.19,160.16 L177.93,159.95 L178.67,159.76 L179.42,159.58 L180.16,159.41 L180.90,159.25 L181.65,159.09 L182.39,158.95 L183.13,158.82 L183.87,158.70 L184.62,158.59 L185.36,158.49 L186.10,158.40 L186.84,158.33 L187.59,158.26 L188.33,158.21 L189.07,158.16 L189.82,158.13 L190.56,158.10 L191.30,158.09 L192.04,158.08 L192.79,158.09 L193.53,158.10 L194.27,158.12 L195.01,158.14 L195.76,158.18 L196.50,158.22 L197.24,158.27 L197.98,158.33 L198.73,158.39 L199.47,158.46 L200.21,158.54 L200.96,158.62 L201.70,158.71 L202.44,158.81 L203.18,158.91 L203.93,159.02 L204.67,159.14 L205.41,159.26 L206.15,159.39 L206.90,159.53 L207.64,159.67 L208.38,159.82 L209.12,159.98 L209.87,160.13 L210.61,160.30 L211.35,160.47 L212.10,160.64 L212.84,160.82 L213.58,161.01 L214.32,161.21 L215.07,161.42 L215.81,161.63 L216.55,161.85 L217.29,162.08 L218.04,162.31 L218.78,162.55 L219.52,162.79 L220.27,163.03 L221.01,163.28 L221.75,163.54 L222.49,163.80 L223.24,164.06 L223.98,164.33 L224.72,164.62 L225.46,164.92 L226.21,165.23 L226.95,165.55 L227.69,165.88 L228.43,166.20 L229.18,166.53 L229.92,166.86 L230.66,167.19 L231.41,167.51 L232.15,167.83 L232.89,168.14 L233.63,168.43 L234.38,168.71 L235.12,168.99 L235.86,169.25 L236.60,169.52 L237.35,169.78 L238.09,170.03 L238.83,170.29 L239.57,170.54 L240.32,170.79 L241.06,171.04 L241.80,171.29 L242.55,171.54 L243.29,171.79 L244.03,172.04 L244.77,172.29 L245.52,172.54 L246.26,172.80 L247.00,173.06 L247.74,173.31 L248.49,173.57 L249.23,173.83 L249.97,174.09 L250.72,174.34 L251.46,174.60 L252.20,174.85 L252.94,175.11 L253.69,175.36 L254.43,175.62 L255.17,175.87 L255.91,176.12 L256.66,176.36 L257.40,176.61 L258.14,176.85 L258.88,177.10 L259.63,177.34 L260.37,177.58 L261.11,177.81 L261.86,178.05 L262.60,178.29 L263.34,178.52 L264.08,178.75 L264.83,178.98 L265.57,179.21 L266.31,179.43 L267.05,179.66 L267.80,179.88 L268.54,180.10 L269.28,180.32 L270.03,180.53 L270.77,180.75 L271.51,180.96 L272.25,181.17 L273.00,181.38 L273.74,181.59 L274.48,181.79 L275.22,182.00 L275.97,182.19 L276.71,182.39 L277.45,182.59 L278.19,182.78 L278.94,182.97 L279.68,183.15 L280.42,183.34 L281.17,183.52 L281.91,183.70 L282.65,183.88 L283.39,184.06 L284.14,184.24 L284.88,184.41 L285.62,184.59 L286.36,184.76 L287.11,184.93 L287.85,185.10 L288.59,185.26 L289.33,185.43 L290.08,185.59 L290.82,185.75 L291.56,185.91 L292.31,186.07 L293.05,186.22 L293.79,186.38 L294.53,186.53 L295.28,186.68 L296.02,186.82 L296.76,186.97 L297.50,187.11 L298.25,187.25 L298.99,187.39 L299.73,187.52 L300.48,187.65 L301.22,187.78 L301.96,187.91 L302.70,188.03 L303.45,188.16 L304.19,188.28 L304.93,188.40 L305.67,188.52 L306.42,188.64 L307.16,188.76 L307.90,188.87 L308.64,188.99 L309.39,189.10 L310.13,189.21 L310.87,189.32 L311.62,189.43 L312.36,189.53 L313.10,189.64 L313.84,189.74 L314.59,189.85 L315.33,189.95 L316.07,190.05 L316.81,190.15 L317.56,190.25 L318.30,190.34 L319.04,190.44 L319.78,190.53 L320.53,190.63 L321.27,190.72 L322.01,190.81 L322.76,190.90 L323.50,190.98 L324.24,191.07 L324.98,191.15 L325.73,191.24 L326.47,191.32 L327.21,191.40 L327.95,191.49 L328.70,191.57 L329.44,191.65 L330.18,191.72 L330.93,191.80 L331.67,191.88 L332.41,191.95 L333.15,192.03 L333.90,192.10 L334.64,192.18 L335.38,192.25 L336.12,192.32 L336.87,192.39 L337.61,192.46 L338.35,192.53 L339.09,192.59 L339.84,192.66 L340.58,192.72 L341.32,192.79 L342.07,192.85 L342.81,192.91 L343.55,192.97 L344.29,193.03 L345.04,193.09 L345.78,193.15 L346.52,193.21 L347.26,193.26 L348.01,193.32 L348.75,193.37 L349.49,193.43 L350.24,193.48 L350.98,193.54 L351.72,193.59 L352.46,193.64 L353.21,193.69 L353.95,193.74 L354.69,193.79 L355.43,193.84 L356.18,193.89 L356.92,193.94 L357.66,193.99 L358.40,194.04 L359.15,194.08 L359.89,194.13 L360.63,194.17 L361.38,194.22 L362.12,194.26 L362.86,194.31 L363.60,194.35 L364.35,194.39 L365.09,194.43 L365.83,194.47 L366.57,194.51 L367.32,194.56 L368.06,194.59 L368.80,194.63 L369.54,194.67 L370.29,194.71 L371.03,194.75 L371.77,194.79 L372.52,194.82 L373.26,194.86 L374.00,194.89 L374.74,194.93 L375.49,194.96 L376.23,195.00 L376.97,195.03 L377.71,195.06 L378.46,195.10 L379.20,195.13 L379.94,195.16 L380.69,195.19 L381.43,195.22 L382.17,195.25 L382.91,195.28 L383.66,195.31 L384.40,195.34 L385.14,195.37 L385.88,195.40 L386.63,195.43 L387.37,195.45 L388.11,195.48 L388.85,195.51 L389.60,195.53 L390.34,195.56 L391.08,195.58 L391.83,195.61 L392.57,195.63 L393.31,195.66 L394.05,195.68 L394.80,195.71 L395.54,195.73 L396.28,195.75 L397.02,195.77 L397.77,195.80 L398.51,195.82 L399.25,195.84 L399.99,195.86 L400.74,195.88 L401.48,195.90 L402.22,195.92 L402.97,195.94 L403.71,195.96 L404.45,195.98 L405.19,196.00 L405.94,196.02 L406.68,196.03 L407.42,196.05 L408.16,196.07 L408.91,196.09 L409.65,196.10 L410.39,196.12 L411.14,196.14 L411.88,196.15 L412.62,196.17 L413.36,196.19 L414.11,196.20 L414.85,196.22 L415.59,196.23 L416.33,196.25 L417.08,196.26 L417.82,196.27 L418.56,196.29 L419.30,196.30 L420.05,196.32 L420.79,196.33 L421.53,196.34 L422.28,196.36 L423.02,196.37 L423.76,196.38 L424.50,196.39 L425.25,196.41 L425.99,196.42 L426.73,196.43 L427.47,196.44 L428.22,196.45 L428.96,196.47 L429.70,196.48 L430.45,196.49 L431.19,196.50 L431.93,196.51 L432.67,196.52 L433.42,196.53 L434.16,196.54 L434.90,196.55 L435.64,196.56 L436.39,196.57 L437.13,196.58 L437.87,196.59 L438.61,196.60 L439.36,196.61 L440.10,196.62" stroke="#0000ff" stroke-width="1.5" stroke-linecap="round" stroke-dasharray="0.1,2.85" stroke-dashoffset="1.1"/>
<path d="M69.50,225.54 L70.24,225.44 L70.99,225.33 L71.73,225.21 L72.47,225.08 L73.21,224.94 L73.96,224.80 L74.70,224.64 L75.44,224.48 L76.18,224.31 L76.93,224.13 L77.67,223.94 L78.41,223.74 L79.15,223.54 L79.90,223.33 L80.64,223.11 L81.38,222.89 L82.13,222.65 L82.87,222.41 L83.61,222.17 L84.35,221.91 L85.10,221.64 L85.84,221.37 L86.58,221.09 L87.32,220.80 L88.07,220.51 L88.81,220.21 L89.55,219.90 L90.30,219.59 L91.04,219.27 L91.78,218.95 L92.52,218.63 L93.27,218.30 L94.01,217.97 L94.75,217.64 L95.49,217.30 L96.24,216.95 L96.98,216.60 L97.72,216.24 L98.46,215.87 L99.21,215.50 L99.95,215.12 L100.69,214.74 L101.44,214.35 L102.18,213.96 L102.92,213.56 L103.66,213.15 L104.41,212.74 L105.15,212.33 L105.89,211.91 L106.63,211.49 L107.38,211.07 L108.12,210.64 L108.86,210.21 L109.61,209.77 L110.35,209.33 L111.09,208.89 L111.83,208.44 L112.58,207.99 L113.32,207.53 L114.06,207.07 L114.80,206.62 L115.55,206.16 L116.29,205.70 L117.03,205.23 L117.77,204.77 L118.52,204.30 L119.26,203.84 L120.00,203.37 L120.75,202.90 L121.49,202.42 L122.23,201.95 L122.97,201.49 L123.72,201.02 L124.46,200.55 L125.20,200.09 L125.94,199.62 L126.69,199.16 L127.43,198.70 L128.17,198.24 L128.91,197.77 L129.66,197.31 L130.40,196.85 L131.14,196.39 L131.89,195.93 L132.63,195.46 L133.37,195.01 L134.11,194.55 L134.86,194.10 L135.60,193.65 L136.34,193.20 L137.08,192.76 L137.83,192.31 L138.57,191.87 L139.31,191.43 L140.06,190.99 L140.80,190.55 L141.54,190.12 L142.28,189.68 L143.03,189.24 L143.77,188.81 L144.51,188.37 L145.25,187.95 L146.00,187.52 L146.74,187.10 L147.48,186.68 L148.22,186.27 L148.97,185.86 L149.71,185.45 L150.45,185.05 L151.20,184.65 L151.94,184.25 L152.68,183.85 L153.42,183.46 L154.17,183.08 L154.91,182.69 L155.65,182.31 L156.39,181.93 L157.14,181.56 L157.88,181.20 L158.62,180.84 L159.36,180.49 L160.11,180.14 L160.85,179.80 L161.59,179.46 L162.34,179.13 L163.08,178.80 L163.82,178.48 L164.56,178.17 L165.31,177.86 L166.05,177.55 L166.79,177.25 L167.53,176.96 L168.28,176.67 L169.02,176.39 L169.76,176.12 L170.51,175.86 L171.25,175.61 L171.99,175.36 L172.73,175.12 L173.48,174.89 L174.22,174.67 L174.96,174.45 L175.70,174.24 L176.45,174.05 L177.19,173.86 L177.93,173.68 L178.67,173.51 L179.42,173.34 L180.16,173.19 L180.90,173.04 L181.65,172.90 L182.39,172.77 L183.13,172.65 L183.87,172.54 L184.62,172.43 L185.36,172.34 L186.10,172.25 L186.84,172.18 L187.59,172.11 L188.33,172.05 L189.07,172.00 L189.82,171.95 L190.56,171.91 L191.30,171.88 L192.04,171.85 L192.79,171.84 L193.53,171.82 L194.27,171.82 L195.01,171.81 L195.76,171.82 L196.50,171.83 L197.24,171.85 L197.98,171.88 L198.73,171.91 L199.47,171.94 L200.21,171.99 L200.96,172.04 L201.70,172.09 L202.44,172.15 L203.18,172.22 L203.93,172.29 L204.67,172.36 L205.41,172.44 L206.15,172.52 L206.90,172.61 L207.64,172.70 L208.38,172.80 L209.12,172.90 L209.87,173.00 L210.61,173.11 L211.35,173.22 L212.10,173.33 L212.84,173.45 L213.58,173.57 L214.32,173.69 L215.07,173.81 L215.81,173.93 L216.55,174.06 L217.29,174.19 L218.04,174.32 L218.78,174.45 L219.52,174.59 L220.27,174.73 L221.01,174.87 L221.75,175.02 L222.49,175.16 L223.24,175.31 L223.98,175.47 L224.72,175.62 L225.46,175.78 L226.21,175.94 L226.95,176.10 L227.69,176.26 L228.43,176.42 L229.18,176.58 L229.92,176.75 L230.66,176.91 L231.41,177.07 L232.15,177.24 L232.89,177.40 L233.63,177.56 L234.38,177.73 L235.12,177.89 L235.86,178.05 L236.60,178.21 L237.35,178.36 L238.09,178.52 L238.83,178.68 L239.57,178.84 L240.32,178.99 L241.06,179.15 L241.80,179.31 L242.55,179.47 L243.29,179.63 L244.03,179.79 L244.77,179.95 L245.52,180.12 L246.26,180.29 L247.00,180.45 L247.74,180.62 L248.49,180.79 L249.23,180.96 L249.97,181.13 L250.72,181.30 L251.46,181.47 L252.20,181.64 L252.94,181.81 L253.69,181.98 L254.43,182.15 L255.17,182.32 L255.91,182.48 L256.66,182.64 L257.40,182.81 L258.14,182.96 L258.88,183.12 L259.63,183.28 L260.37,183.43 L261.11,183.59 L261.86,183.74 L262.60,183.89 L263.34,184.04 L264.08,184.19 L264.83,184.33 L265.57,184.48 L266.31,184.63 L267.05,184.77 L267.80,184.92 L268.54,185.06 L269.28,185.21 L270.03,185.35 L270.77,185.49 L271.51,185.64 L272.25,185.78 L273.00,185.92 L273.74,186.06 L274.48,186.19 L275.22,186.33 L275.97,186.46 L276.71,186.59 L277.45,186.73 L278.19,186.85 L278.94,186.98 L279.68,187.11 L280.42,187.23 L281.17,187.35 L281.91,187.47 L282.65,187.59 L283.39,187.70 L284.14,187.82 L284.88,187.93 L285.62,188.04 L286.36,188.15 L287.11,188.26 L287.85,188.36 L288.59,188.47 L289.33,188.57 L290.08,188.67 L290.82,188.77 L291.56,188.87 L292.31,188.97 L293.05,189.07 L293.79,189.17 L294.53,189.27 L295.28,189.36 L296.02,189.46 L296.76,189.55 L297.50,189.65 L298.25,189.74 L298.99,189.84 L299.73,189.93 L300.48,190.03 L301.22,190.12 L301.96,190.21 L302.70,190.30 L303.45,190.39 L304.19,190.48 L304.93,190.56 L305.67,190.65 L306.42,190.74 L307.16,190.82 L307.90,190.90 L308.64,190.99 L309.39,191.07 L310.13,191.15 L310.87,191.23 L311.62,191.32 L312.36,191.40 L313.10,191.48 L313.84,191.56 L314.59,191.64 L315.33,191.72 L316.07,191.80 L316.81,191.88 L317.56,191.96 L318.30,192.04 L319.04,192.12 L319.78,192.20 L320.53,192.28 L321.27,192.36 L322.01,192.43 L322.76,192.51 L323.50,192.59 L324.24,192.67 L324.98,192.74 L325.73,192.82 L326.47,192.89 L327.21,192.96 L327.95,193.03 L328.70,193.11 L329.44,193.18 L330.18,193.25 L330.93,193.32 L331.67,193.38 L332.41,193.45 L333.15,193.52 L333.90,193.58 L334.64,193.65 L335.38,193.71 L336.12,193.78 L336.87,193.84 L337.61,193.90 L338.35,193.97 L339.09,194.03 L339.84,194.09 L340.58,194.15 L341.32,194.21 L342.07,194.26 L342.81,194.32 L343.55,194.38 L344.29,194.44 L345.04,194.49 L345.78,194.55 L346.52,194.60 L347.26,194.65 L348.01,194.71 L348.75,194.76 L349.49,194.81 L350.24,194.86 L350.98,194.91 L351.72,194.96 L352.46,195.01 L353.21,195.06 L353.95,195.11 L354.69,195.16 L355.43,195.20 L356.18,195.25 L356.92,195.30 L357.66,195.34 L358.40,195.38 L359.15,195.43 L359.89,195.47 L360.63,195.51 L361.38,195.56 L362.12,195.60 L362.86,195.64 L363.60,195.68 L364.35,195.72 L365.09,195.76 L365.83,195.80 L366.57,195.84 L367.32,195.88 L368.06,195.91 L368.80,195.95 L369.54,195.99 L370.29,196.02 L371.03,196.06 L371.77,196.09 L372.52,196.13 L373.26,196.16 L374.00,196.19 L374.74,196.23 L375.49,196.26 L376.23,196.29 L376.97,196.32 L377.71,196.35 L378.46,196.38 L379.20,196.41 L379.94,196.44 L380.69,196.47 L381.43,196.50 L382.17,196.53 L382.91,196.56 L383.66,196.59 L384.40,196.61 L385.14,196.64 L385.88,196.67 L386.63,196.69 L387.37,196.72 L388.11,196.74 L388.85,196.77 L389.60,196.79 L390.34,196.82 L391.08,196.84 L391.83,196.86 L392.57,196.89 L393.31,196.91 L394.05,196.93 L394.80,196.95 L395.54,196.98 L396.28,197.00 L397.02,197.02 L397.77,197.04 L398.51,197.06 L399.25,197.08 L399.99,197.10 L400.74,197.12 L401.48,197.14 L402.22,197.15 L402.97,197.17 L403.71,197.19 L404.45,197.21 L405.19,197.23 L405.94,197.24 L406.68,197.26 L407.42,197.28 L408.16,197.29 L408.91,197.31 L409.65,197.33 L410.39,197.34 L411.14,197.36 L411.88,197.37 L412.62,197.39 L413.36,197.40 L414.11,197.42 L414.85,197.43 L415.59,197.45 L416.33,197.46 L417.08,197.47 L417.82,197.49 L418.56,197.50 L419.30,197.51 L420.05,197.53 L420.79,197.54 L421.53,197.55 L422.28,197.56 L423.02,197.58 L423.76,197.59 L424.50,197.60 L425.25,197.61 L425.99,197.62 L426.73,197.64 L427.47,197.65 L428.22,197.66 L428.96,197.67 L429.70,197.68 L430.45,197.69 L431.19,197.70 L431.93,197.71 L432.67,197.72 L433.42,197.73 L434.16,197.74 L434.90,197.75 L435.64,197.76 L436.39,197.77 L437.13,197.78 L437.87,197.79 L438.61,197.80 L439.36,197.81 L440.10,197.82" stroke="#0000ff" stroke-width="1.5" stroke-linecap="round" stroke-dasharray="0.1,2.95" stroke-dashoffset="0.6"/>
<path d="M69.50,226.79 L70.24,226.67 L70.99,226.55 L71.73,226.42 L72.47,226.28 L73.21,226.13 L73.96,225.97 L74.70,225.80 L75.44,225.62 L76.18,225.43 L76.93,225.24 L77.67,225.03 L78.41,224.82 L79.15,224.60 L79.90,224.37 L80.64,224.13 L81.38,223.89 L82.13,223.64 L82.87,223.38 L83.61,223.12 L84.35,222.84 L85.10,222.55 L85.84,222.26 L86.58,221.96 L87.32,221.65 L88.07,221.33 L88.81,221.01 L89.55,220.68 L90.30,220.35 L91.04,220.02 L91.78,219.69 L92.52,219.35 L93.27,219.01 L94.01,218.67 L94.75,218.33 L95.49,217.98 L96.24,217.63 L96.98,217.26 L97.72,216.90 L98.46,216.52 L99.21,216.15 L99.95,215.76 L100.69,215.37 L101.44,214.98 L102.18,214.58 L102.92,214.18 L103.66,213.78 L104.41,213.37 L105.15,212.95 L105.89,212.54 L106.63,212.12 L107.38,211.70 L108.12,211.28 L108.86,210.85 L109.61,210.42 L110.35,209.99 L111.09,209.55 L111.83,209.11 L112.58,208.67 L113.32,208.22 L114.06,207.78 L114.80,207.33 L115.55,206.89 L116.29,206.44 L117.03,206.00 L117.77,205.55 L118.52,205.10 L119.26,204.65 L120.00,204.20 L120.75,203.75 L121.49,203.30 L122.23,202.85 L122.97,202.41 L123.72,201.97 L124.46,201.53 L125.20,201.10 L125.94,200.66 L126.69,200.23 L127.43,199.80 L128.17,199.37 L128.91,198.94 L129.66,198.51 L130.40,198.08 L131.14,197.65 L131.89,197.22 L132.63,196.79 L133.37,196.36 L134.11,195.94 L134.86,195.52 L135.60,195.10 L136.34,194.69 L137.08,194.28 L137.83,193.87 L138.57,193.46 L139.31,193.06 L140.06,192.65 L140.80,192.24 L141.54,191.83 L142.28,191.43 L143.03,191.01 L143.77,190.60 L144.51,190.19 L145.25,189.79 L146.00,189.39 L146.74,188.99 L147.48,188.59 L148.22,188.20 L148.97,187.81 L149.71,187.42 L150.45,187.04 L151.20,186.66 L151.94,186.27 L152.68,185.90 L153.42,185.52 L154.17,185.14 L154.91,184.77 L155.65,184.40 L156.39,184.03 L157.14,183.67 L157.88,183.31 L158.62,182.97 L159.36,182.62 L160.11,182.28 L160.85,181.95 L161.59,181.62 L162.34,181.29 L163.08,180.97 L163.82,180.66 L164.56,180.35 L165.31,180.04 L166.05,179.74 L166.79,179.44 L167.53,179.15 L168.28,178.86 L169.02,178.58 L169.76,178.31 L170.51,178.05 L171.25,177.79 L171.99,177.55 L172.73,177.31 L173.48,177.08 L174.22,176.85 L174.96,176.64 L175.70,176.43 L176.45,176.23 L177.19,176.05 L177.93,175.87 L178.67,175.69 L179.42,175.53 L180.16,175.37 L180.90,175.22 L181.65,175.08 L182.39,174.95 L183.13,174.82 L183.87,174.71 L184.62,174.60 L185.36,174.50 L186.10,174.41 L186.84,174.32 L187.59,174.25 L188.33,174.18 L189.07,174.13 L189.82,174.08 L190.56,174.03 L191.30,173.99 L192.04,173.96 L192.79,173.93 L193.53,173.90 L194.27,173.88 L195.01,173.87 L195.76,173.86 L196.50,173.86 L197.24,173.87 L197.98,173.88 L198.73,173.89 L199.47,173.92 L200.21,173.95 L200.96,173.98 L201.70,174.02 L202.44,174.07 L203.18,174.12 L203.93,174.17 L204.67,174.23 L205.41,174.30 L206.15,174.36 L206.90,174.43 L207.64,174.51 L208.38,174.59 L209.12,174.67 L209.87,174.75 L210.61,174.84 L211.35,174.94 L212.10,175.03 L212.84,175.13 L213.58,175.23 L214.32,175.33 L215.07,175.43 L215.81,175.53 L216.55,175.64 L217.29,175.75 L218.04,175.86 L218.78,175.97 L219.52,176.08 L220.27,176.20 L221.01,176.32 L221.75,176.45 L222.49,176.58 L223.24,176.71 L223.98,176.85 L224.72,176.99 L225.46,177.13 L226.21,177.27 L226.95,177.42 L227.69,177.57 L228.43,177.72 L229.18,177.86 L229.92,178.01 L230.66,178.16 L231.41,178.31 L232.15,178.46 L232.89,178.61 L233.63,178.76 L234.38,178.91 L235.12,179.05 L235.86,179.19 L236.60,179.33 L237.35,179.47 L238.09,179.61 L238.83,179.74 L239.57,179.88 L240.32,180.02 L241.06,180.16 L241.80,180.30 L242.55,180.44 L243.29,180.58 L244.03,180.72 L244.77,180.87 L245.52,181.02 L246.26,181.17 L247.00,181.33 L247.74,181.48 L248.49,181.64 L249.23,181.80 L249.97,181.96 L250.72,182.12 L251.46,182.28 L252.20,182.44 L252.94,182.60 L253.69,182.76 L254.43,182.92 L255.17,183.07 L255.91,183.23 L256.66,183.38 L257.40,183.53 L258.14,183.67 L258.88,183.82 L259.63,183.96 L260.37,184.10 L261.11,184.24 L261.86,184.38 L262.60,184.52 L263.34,184.65 L264.08,184.79 L264.83,184.92 L265.57,185.06 L266.31,185.19 L267.05,185.33 L267.80,185.46 L268.54,185.60 L269.28,185.73 L270.03,185.87 L270.77,186.00 L271.51,186.13 L272.25,186.27 L273.00,186.40 L273.74,186.53 L274.48,186.66 L275.22,186.79 L275.97,186.91 L276.71,187.04 L277.45,187.16 L278.19,187.28 L278.94,187.40 L279.68,187.52 L280.42,187.63 L281.17,187.74 L281.91,187.85 L282.65,187.96 L283.39,188.06 L284.14,188.17 L284.88,188.27 L285.62,188.37 L286.36,188.46 L287.11,188.56 L287.85,188.66 L288.59,188.75 L289.33,188.84 L290.08,188.93 L290.82,189.02 L291.56,189.11 L292.31,189.20 L293.05,189.29 L293.79,189.38 L294.53,189.46 L295.28,189.55 L296.02,189.64 L296.76,189.72 L297.50,189.81 L298.25,189.90 L298.99,189.98 L299.73,190.07 L300.48,190.16 L301.22,190.24 L301.96,190.33 L302.70,190.41 L303.45,190.49 L304.19,190.57 L304.93,190.65 L305.67,190.73 L306.42,190.81 L307.16,190.89 L307.90,190.97 L308.64,191.04 L309.39,191.12 L310.13,191.20 L310.87,191.27 L311.62,191.35 L312.36,191.42 L313.10,191.50 L313.84,191.58 L314.59,191.65 L315.33,191.73 L316.07,191.81 L316.81,191.88 L317.56,191.96 L318.30,192.04 L319.04,192.12 L319.78,192.20 L320.53,192.28 L321.27,192.36 L322.01,192.43 L322.76,192.51 L323.50,192.59 L324.24,192.67 L324.98,192.74 L325.73,192.82 L326.47,192.89 L327.21,192.96 L327.95,193.03 L328.70,193.11 L329.44,193.18 L330.18,193.25 L330.93,193.32 L331.67,193.38 L332.41,193.45 L333.15,193.52 L333.90,193.58 L334.64,193.65 L335.38,193.71 L336.12,193.78 L336.87,193.84 L337.61,193.90 L338.35,193.97 L339.09,194.03 L339.84,194.09 L340.58,194.15 L341.32,194.21 L342.07,194.26 L342.81,194.32 L343.55,194.38 L344.29,194.44 L345.04,194.49 L345.78,194.55 L346.52,194.60 L347.26,194.65 L348.01,194.71 L348.75,194.76 L349.49,194.81 L350.24,194.86 L350.98,194.91 L351.72,194.96 L352.46,195.01 L353.21,195.06 L353.95,195.11 L354.69,195.16 L355.43,195.20 L356.18,195.25 L356.92,195.30 L357.66,195.34 L358.40,195.38 L359.15,195.43 L359.89,195.47 L360.63,195.51 L361.38,195.56 L362.12,195.60 L362.86,195.64 L363.60,195.68 L364.35,195.72 L365.09,195.76 L365.83,195.80 L366.57,195.84 L367.32,195.88 L368.06,195.91 L368.80,195.95 L369.54,195.99 L370.29,196.02 L371.03,196.06 L371.77,196.09 L372.52,196.13 L373.26,196.16 L374.00,196.19 L374.74,196.23 L375.49,196.26 L376.23,196.29 L376.97,196.32 L377.71,196.35 L378.46,196.38 L379.20,196.41 L379.94,196.44 L380.69,196.47 L381.43,196.50 L382.17,196.53 L382.91,196.56 L383.66,196.59 L384.40,196.61 L385.14,196.64 L385.88,196.67 L386.63,196.69 L387.37,196.72 L388.11,196.74 L388.85,196.77 L389.60,196.79 L390.34,196.82 L391.08,196.84 L391.83,196.86 L392.57,196.89 L393.31,196.91 L394.05,196.93 L394.80,196.95 L395.54,196.98 L396.28,197.00 L397.02,197.02 L397.77,197.04 L398.51,197.06 L399.25,197.08 L399.99,197.10 L400.74,197.12 L401.48,197.14 L402.22,197.15 L402.97,197.17 L403.71,197.19 L404.45,197.21 L405.19,197.23 L405.94,197.24 L406.68,197.26 L407.42,197.28 L408.16,197.29 L408.91,197.31 L409.65,197.33 L410.39,197.34 L411.14,197.36 L411.88,197.37 L412.62,197.39 L413.36,197.40 L414.11,197.42 L414.85,197.43 L415.59,197.45 L416.33,197.46 L417.08,197.47 L417.82,197.49 L418.56,197.50 L419.30,197.51 L420.05,197.53 L420.79,197.54 L421.53,197.55 L422.28,197.56 L423.02,197.58 L423.76,197.59 L424.50,197.60 L425.25,197.61 L425.99,197.62 L426.73,197.64 L427.47,197.65 L428.22,197.66 L428.96,197.67 L429.70,197.68 L430.45,197.69 L431.19,197.70 L431.93,197.71 L432.67,197.72 L433.42,197.73 L434.16,197.74 L434.90,197.75 L435.64,197.76 L436.39,197.77 L437.13,197.78 L437.87,197.79 L438.61,197.80 L439.36,197.81 L440.10,197.82" stroke="#0000ff" stroke-width="1.5" stroke-linecap="round" stroke-dasharray="0.1,2.6" stroke-dashoffset="1.9"/>
<path d="M69.50,228.03 L70.24,227.90 L70.99,227.77 L71.73,227.63 L72.47,227.48 L73.21,227.31 L73.96,227.14 L74.70,226.95 L75.44,226.76 L76.18,226.56 L76.93,226.34 L77.67,226.12 L78.41,225.89 L79.15,225.65 L79.90,225.41 L80.64,225.15 L81.38,224.89 L82.13,224.62 L82.87,224.35 L83.61,224.07 L84.35,223.77 L85.10,223.46 L85.84,223.15 L86.58,222.82 L87.32,222.49 L88.07,222.16 L88.81,221.82 L89.55,221.47 L90.30,221.12 L91.04,220.77 L91.78,220.42 L92.52,220.07 L93.27,219.72 L94.01,219.37 L94.75,219.02 L95.49,218.66 L96.24,218.30 L96.98,217.93 L97.72,217.56 L98.46,217.18 L99.21,216.79 L99.95,216.40 L100.69,216.01 L101.44,215.61 L102.18,215.21 L102.92,214.81 L103.66,214.40 L104.41,213.99 L105.15,213.57 L105.89,213.16 L106.63,212.74 L107.38,212.33 L108.12,211.91 L108.86,211.49 L109.61,211.07 L110.35,210.65 L111.09,210.22 L111.83,209.78 L112.58,209.35 L113.32,208.92 L114.06,208.48 L114.80,208.05 L115.55,207.62 L116.29,207.19 L117.03,206.76 L117.77,206.33 L118.52,205.90 L119.26,205.47 L120.00,205.04 L120.75,204.61 L121.49,204.18 L122.23,203.75 L122.97,203.34 L123.72,202.92 L124.46,202.51 L125.20,202.10 L125.94,201.70 L126.69,201.30 L127.43,200.90 L128.17,200.50 L128.91,200.10 L129.66,199.71 L130.40,199.31 L131.14,198.91 L131.89,198.51 L132.63,198.11 L133.37,197.72 L134.11,197.33 L134.86,196.94 L135.60,196.56 L136.34,196.18 L137.08,195.81 L137.83,195.43 L138.57,195.06 L139.31,194.68 L140.06,194.31 L140.80,193.93 L141.54,193.55 L142.28,193.17 L143.03,192.79 L143.77,192.40 L144.51,192.02 L145.25,191.63 L146.00,191.25 L146.74,190.88 L147.48,190.51 L148.22,190.13 L148.97,189.76 L149.71,189.40 L150.45,189.03 L151.20,188.66 L151.94,188.30 L152.68,187.94 L153.42,187.57 L154.17,187.21 L154.91,186.85 L155.65,186.48 L156.39,186.13 L157.14,185.78 L157.88,185.43 L158.62,185.09 L159.36,184.76 L160.11,184.43 L160.85,184.10 L161.59,183.78 L162.34,183.46 L163.08,183.14 L163.82,182.83 L164.56,182.53 L165.31,182.22 L166.05,181.92 L166.79,181.63 L167.53,181.33 L168.28,181.05 L169.02,180.77 L169.76,180.50 L170.51,180.23 L171.25,179.98 L171.99,179.73 L172.73,179.49 L173.48,179.26 L174.22,179.04 L174.96,178.82 L175.70,178.62 L176.45,178.42 L177.19,178.23 L177.93,178.05 L178.67,177.88 L179.42,177.72 L180.16,177.56 L180.90,177.40 L181.65,177.26 L182.39,177.12 L183.13,176.99 L183.87,176.87 L184.62,176.76 L185.36,176.66 L186.10,176.56 L186.84,176.47 L187.59,176.39 L188.33,176.32 L189.07,176.26 L189.82,176.20 L190.56,176.15 L191.30,176.10 L192.04,176.06 L192.79,176.02 L193.53,175.98 L194.27,175.95 L195.01,175.92 L195.76,175.90 L196.50,175.89 L197.24,175.88 L197.98,175.88 L198.73,175.88 L199.47,175.89 L200.21,175.90 L200.96,175.93 L201.70,175.95 L202.44,175.99 L203.18,176.02 L203.93,176.06 L204.67,176.10 L205.41,176.15 L206.15,176.20 L206.90,176.26 L207.64,176.31 L208.38,176.37 L209.12,176.44 L209.87,176.51 L210.61,176.58 L211.35,176.65 L212.10,176.73 L212.84,176.81 L213.58,176.89 L214.32,176.97 L215.07,177.05 L215.81,177.13 L216.55,177.22 L217.29,177.30 L218.04,177.39 L218.78,177.48 L219.52,177.58 L220.27,177.68 L221.01,177.78 L221.75,177.88 L222.49,177.99 L223.24,178.11 L223.98,178.23 L224.72,178.35 L225.46,178.48 L226.21,178.61 L226.95,178.74 L227.69,178.88 L228.43,179.01 L229.18,179.15 L229.92,179.28 L230.66,179.42 L231.41,179.56 L232.15,179.69 L232.89,179.82 L233.63,179.96 L234.38,180.09 L235.12,180.21 L235.86,180.34 L236.60,180.46 L237.35,180.58 L238.09,180.69 L238.83,180.81 L239.57,180.93 L240.32,181.04 L241.06,181.16 L241.80,181.28 L242.55,181.40 L243.29,181.53 L244.03,181.65 L244.77,181.79 L245.52,181.92 L246.26,182.06 L247.00,182.20 L247.74,182.35 L248.49,182.49 L249.23,182.64 L249.97,182.79 L250.72,182.94 L251.46,183.09 L252.20,183.24 L252.94,183.39 L253.69,183.54 L254.43,183.68 L255.17,183.83 L255.91,183.97 L256.66,184.11 L257.40,184.25 L258.14,184.38 L258.88,184.52 L259.63,184.65 L260.37,184.77 L261.11,184.90 L261.86,185.02 L262.60,185.15 L263.34,185.27 L264.08,185.39 L264.83,185.51 L265.57,185.63 L266.31,185.76 L267.05,185.88 L267.80,186.00 L268.54,186.13 L269.28,186.25 L270.03,186.38 L270.77,186.51 L271.51,186.63 L272.25,186.76 L273.00,186.88 L273.74,187.00 L274.48,187.12 L275.22,187.24 L275.97,187.36 L276.71,187.48 L277.45,187.59 L278.19,187.71 L278.94,187.82 L279.68,187.92 L280.42,188.03 L281.17,188.13 L281.91,188.23 L282.65,188.33 L283.39,188.42 L284.14,188.52 L284.88,188.61 L285.62,188.69 L286.36,188.78 L287.11,188.87 L287.85,188.95 L288.59,189.03 L289.33,189.11 L290.08,189.19 L290.82,189.27 L291.56,189.35 L292.31,189.43 L293.05,189.51 L293.79,189.58 L294.53,189.66 L295.28,189.74 L296.02,189.82 L296.76,189.89 L297.50,189.97 L298.25,190.05 L298.99,190.13 L299.73,190.21 L300.48,190.29 L301.22,190.37 L301.96,190.44 L302.70,190.52 L303.45,190.60 L304.19,190.67 L304.93,190.74 L305.67,190.82 L306.42,190.89 L307.16,190.96 L307.90,191.03 L308.64,191.10 L309.39,191.17 L310.13,191.24 L310.87,191.31 L311.62,191.38 L312.36,191.45 L313.10,191.52 L313.84,191.59 L314.59,191.67 L315.33,191.74 L316.07,191.81 L316.81,191.89 L317.56,191.96 L318.30,192.04 L319.04,192.12 L319.78,192.20 L320.53,192.28 L321.27,192.36 L322.01,192.43 L322.76,192.51 L323.50,192.59 L324.24,192.67 L324.98,192.74 L325.73,192.82 L326.47,192.89 L327.21,192.96 L327.95,193.03 L328.70,193.11 L329.44,193.18 L330.18,193.25 L330.93,193.32 L331.67,193.38 L332.41,193.45 L333.15,193.52 L333.90,193.58 L334.64,193.65 L335.38,193.71 L336.12,193.78 L336.87,193.84 L337.61,193.90 L338.35,193.97 L339.09,194.03 L339.84,194.09 L340.58,194.15 L341.32,194.21 L342.07,194.26 L342.81,194.32 L343.55,194.38 L344.29,194.44 L345.04,194.49 L345.78,194.55 L346.52,194.60 L347.26,194.65 L348.01,194.71 L348.75,194.76 L349.49,194.81 L350.24,194.86 L350.98,194.91 L351.72,194.96 L352.46,195.01 L353.21,195.06 L353.95,195.11 L354.69,195.16 L355.43,195.20 L356.18,195.25 L356.92,195.30 L357.66,195.34 L358.40,195.38 L359.15,195.43 L359.89,195.47 L360.63,195.51 L361.38,195.56 L362.12,195.60 L362.86,195.64 L363.60,195.68 L364.35,195.72 L365.09,195.76 L365.83,195.80 L366.57,195.84 L367.32,195.88 L368.06,195.91 L368.80,195.95 L369.54,195.99 L370.29,196.02 L371.03,196.06 L371.77,196.09 L372.52,196.13 L373.26,196.16 L374.00,196.19 L374.74,196.23 L375.49,196.26 L376.23,196.29 L376.97,196.32 L377.71,196.35 L378.46,196.38 L379.20,196.41 L379.94,196.44 L380.69,196.47 L381.43,196.50 L382.17,196.53 L382.91,196.56 L383.66,196.59 L384.40,196.61 L385.14,196.64 L385.88,196.67 L386.63,196.69 L387.37,196.72 L388.11,196.74 L388.85,196.77 L389.60,196.79 L390.34,196.82 L391.08,196.84 L391.83,196.86 L392.57,196.89 L393.31,196.91 L394.05,196.93 L394.80,196.95 L395.54,196.98 L396.28,197.00 L397.02,197.02 L397.77,197.04 L398.51,197.06 L399.25,197.08 L399.99,197.10 L400.74,197.12 L401.48,197.14 L402.22,197.15 L402.97,197.17 L403.71,197.19 L404.45,197.21 L405.19,197.23 L405.94,197.24 L406.68,197.26 L407.42,197.28 L408.16,197.29 L408.91,197.31 L409.65,197.33 L410.39,197.34 L411.14,197.36 L411.88,197.37 L412.62,197.39 L413.36,197.40 L414.11,197.42 L414.85,197.43 L415.59,197.45 L416.33,197.46 L417.08,197.47 L417.82,197.49 L418.56,197.50 L419.30,197.51 L420.05,197.53 L420.79,197.54 L421.53,197.55 L422.28,197.56 L423.02,197.58 L423.76,197.59 L424.50,197.60 L425.25,197.61 L425.99,197.62 L426.73,197.64 L427.47,197.65 L428.22,197.66 L428.96,197.67 L429.70,197.68 L430.45,197.69 L431.19,197.70 L431.93,197.71 L432.67,197.72 L433.42,197.73 L434.16,197.74 L434.90,197.75 L435.64,197.76 L436.39,197.77 L437.13,197.78 L437.87,197.79 L438.61,197.80 L439.36,197.81 L440.10,197.82" stroke="#0000ff" stroke-width="1.5" stroke-linecap="round" stroke-dasharray="0.1,2.8" stroke-dashoffset="0.4"/>
<path d="M69.50,223.43 L70.24,223.34 L70.99,223.25 L71.73,223.15 L72.47,223.04 L73.21,222.93 L73.96,222.80 L74.70,222.67 L75.44,222.54 L76.18,222.39 L76.93,222.24 L77.67,222.08 L78.41,221.92 L79.15,221.74 L79.90,221.56 L80.64,221.37 L81.38,221.18 L82.13,220.97 L82.87,220.77 L83.61,220.55 L84.35,220.32 L85.10,220.09 L85.84,219.86 L86.58,219.61 L87.32,219.36 L88.07,219.10 L88.81,218.83 L89.55,218.56 L90.30,218.28 L91.04,218.00 L91.78,217.70 L92.52,217.40 L93.27,217.09 L94.01,216.78 L94.75,216.46 L95.49,216.13 L96.24,215.80 L96.98,215.46 L97.72,215.11 L98.46,214.76 L99.21,214.40 L99.95,214.03 L100.69,213.65 L101.44,213.27 L102.18,212.89 L102.92,212.49 L103.66,212.09 L104.41,211.69 L105.15,211.27 L105.89,210.85 L106.63,210.43 L107.38,210.00 L108.12,209.56 L108.86,209.12 L109.61,208.67 L110.35,208.21 L111.09,207.75 L111.83,207.29 L112.58,206.82 L113.32,206.35 L114.06,205.88 L114.80,205.40 L115.55,204.91 L116.29,204.42 L117.03,203.93 L117.77,203.44 L118.52,202.94 L119.26,202.44 L120.00,201.94 L120.75,201.44 L121.49,200.93 L122.23,200.42 L122.97,199.91 L123.72,199.40 L124.46,198.89 L125.20,198.37 L125.94,197.86 L126.69,197.34 L127.43,196.82 L128.17,196.31 L128.91,195.79 L129.66,195.27 L130.40,194.76 L131.14,194.24 L131.89,193.73 L132.63,193.21 L133.37,192.70 L134.11,192.19 L134.86,191.68 L135.60,191.17 L136.34,190.66 L137.08,190.16 L137.83,189.65 L138.57,189.15 L139.31,188.66 L140.06,188.16 L140.80,187.67 L141.54,187.19 L142.28,186.70 L143.03,186.22 L143.77,185.74 L144.51,185.27 L145.25,184.80 L146.00,184.34 L146.74,183.88 L147.48,183.43 L148.22,182.98 L148.97,182.53 L149.71,182.09 L150.45,181.65 L151.20,181.22 L151.94,180.80 L152.68,180.38 L153.42,179.96 L154.17,179.55 L154.91,179.15 L155.65,178.75 L156.39,178.36 L157.14,177.97 L157.88,177.59 L158.62,177.22 L159.36,176.85 L160.11,176.49 L160.85,176.13 L161.59,175.78 L162.34,175.44 L163.08,175.10 L163.82,174.77 L164.56,174.45 L165.31,174.14 L166.05,173.83 L166.79,173.53 L167.53,173.23 L168.28,172.95 L169.02,172.67 L169.76,172.40 L170.51,172.13 L171.25,171.88 L171.99,171.63 L172.73,171.39 L173.48,171.16 L174.22,170.94 L174.96,170.72 L175.70,170.52 L176.45,170.32 L177.19,170.13 L177.93,169.95 L178.67,169.78 L179.42,169.62 L180.16,169.47 L180.90,169.32 L181.65,169.19 L182.39,169.06 L183.13,168.95 L183.87,168.84 L184.62,168.75 L185.36,168.66 L186.10,168.58 L186.84,168.51 L187.59,168.46 L188.33,168.40 L189.07,168.36 L189.82,168.33 L190.56,168.30 L191.30,168.29 L192.04,168.28 L192.79,168.27 L193.53,168.28 L194.27,168.29 L195.01,168.31 L195.76,168.34 L196.50,168.38 L197.24,168.42 L197.98,168.47 L198.73,168.52 L199.47,168.58 L200.21,168.65 L200.96,168.72 L201.70,168.80 L202.44,168.89 L203.18,168.98 L203.93,169.07 L204.67,169.18 L205.41,169.28 L206.15,169.39 L206.90,169.51 L207.64,169.63 L208.38,169.75 L209.12,169.88 L209.87,170.02 L210.61,170.15 L211.35,170.29 L212.10,170.44 L212.84,170.59 L213.58,170.74 L214.32,170.89 L215.07,171.05 L215.81,171.21 L216.55,171.37 L217.29,171.54 L218.04,171.71 L218.78,171.88 L219.52,172.05 L220.27,172.22 L221.01,172.40 L221.75,172.57 L222.49,172.75 L223.24,172.93 L223.98,173.11 L224.72,173.29 L225.46,173.47 L226.21,173.66 L226.95,173.84 L227.69,174.03 L228.43,174.21 L229.18,174.40 L229.92,174.58 L230.66,174.77 L231.41,174.96 L232.15,175.15 L232.89,175.34 L233.63,175.53 L234.38,175.72 L235.12,175.91 L235.86,176.10 L236.60,176.29 L237.35,176.48 L238.09,176.67 L238.83,176.86 L239.57,177.05 L240.32,177.25 L241.06,177.44 L241.80,177.63 L242.55,177.82 L243.29,178.01 L244.03,178.20 L244.77,178.39 L245.52,178.59 L246.26,178.78 L247.00,178.97 L247.74,179.16 L248.49,179.35 L249.23,179.54 L249.97,179.72 L250.72,179.91 L251.46,180.10 L252.20,180.29 L252.94,180.47 L253.69,180.66 L254.43,180.84 L255.17,181.03 L255.91,181.21 L256.66,181.39 L257.40,181.57 L258.14,181.75 L258.88,181.93 L259.63,182.11 L260.37,182.29 L261.11,182.47 L261.86,182.64 L262.60,182.81 L263.34,182.99 L264.08,183.16 L264.83,183.33 L265.57,183.50 L266.31,183.66 L267.05,183.83 L267.80,183.99 L268.54,184.16 L269.28,184.32 L270.03,184.48 L270.77,184.63 L271.51,184.79 L272.25,184.94 L273.00,185.10 L273.74,185.25 L274.48,185.40 L275.22,185.55 L275.97,185.70 L276.71,185.84 L277.45,185.99 L278.19,186.13 L278.94,186.27 L279.68,186.41 L280.42,186.55 L281.17,186.69 L281.91,186.82 L282.65,186.96 L283.39,187.09 L284.14,187.22 L284.88,187.35 L285.62,187.48 L286.36,187.61 L287.11,187.73 L287.85,187.86 L288.59,187.98 L289.33,188.11 L290.08,188.23 L290.82,188.35 L291.56,188.47 L292.31,188.59 L293.05,188.70 L293.79,188.82 L294.53,188.93 L295.28,189.04 L296.02,189.16 L296.76,189.27 L297.50,189.38 L298.25,189.48 L298.99,189.59 L299.73,189.70 L300.48,189.80 L301.22,189.91 L301.96,190.01 L302.70,190.11 L303.45,190.21 L304.19,190.31 L304.93,190.41 L305.67,190.51 L306.42,190.61 L307.16,190.70 L307.90,190.80 L308.64,190.89 L309.39,190.99 L310.13,191.08 L310.87,191.17 L311.62,191.26 L312.36,191.35 L313.10,191.44 L313.84,191.53 L314.59,191.61 L315.33,191.70 L316.07,191.78 L316.81,191.87 L317.56,191.95 L318.30,192.03 L319.04,192.12 L319.78,192.20 L320.53,192.28 L321.27,192.36 L322.01,192.43 L322.76,192.51 L323.50,192.59 L324.24,192.67 L324.98,192.74 L325.73,192.82 L326.47,192.89 L327.21,192.96 L327.95,193.03 L328.70,193.11 L329.44,193.18 L330.18,193.25 L330.93,193.32 L331.67,193.38 L332.41,193.45 L333.15,193.52 L333.90,193.58 L334.64,193.65 L335.38,193.71 L336.12,193.78 L336.87,193.84 L337.61,193.90 L338.35,193.97 L339.09,194.03 L339.84,194.09 L340.58,194.15 L341.32,194.21 L342.07,194.26 L342.81,194.32 L343.55,194.38 L344.29,194.44 L345.04,194.49 L345.78,194.55 L346.52,194.60 L347.26,194.65 L348.01,194.71 L348.75,194.76 L349.49,194.81 L350.24,194.86 L350.98,194.91 L351.72,194.96 L352.46,195.01 L353.21,195.06 L353.95,195.11 L354.69,195.16 L355.43,195.20 L356.18,195.25 L356.92,195.30 L357.66,195.34 L358.40,195.38 L359.15,195.43 L359.89,195.47 L360.63,195.51 L361.38,195.56 L362.12,195.60 L362.86,195.64 L363.60,195.68 L364.35,195.72 L365.09,195.76 L365.83,195.80 L366.57,195.84 L367.32,195.88 L368.06,195.91 L368.80,195.95 L369.54,195.99 L370.29,196.02 L371.03,196.06 L371.77,196.09 L372.52,196.13 L373.26,196.16 L374.00,196.19 L374.74,196.23 L375.49,196.26 L376.23,196.29 L376.97,196.32 L377.71,196.35 L378.46,196.38 L379.20,196.41 L379.94,196.44 L380.69,196.47 L381.43,196.50 L382.17,196.53 L382.91,196.56 L383.66,196.59 L384.40,196.61 L385.14,196.64 L385.88,196.67 L386.63,196.69 L387.37,196.72 L388.11,196.74 L388.85,196.77 L389.60,196.79 L390.34,196.82 L391.08,196.84 L391.83,196.86 L392.57,196.89 L393.31,196.91 L394.05,196.93 L394.80,196.95 L395.54,196.98 L396.28,197.00 L397.02,197.02 L397.77,197.04 L398.51,197.06 L399.25,197.08 L399.99,197.10 L400.74,197.12 L401.48,197.14 L402.22,197.15 L402.97,197.17 L403.71,197.19 L404.45,197.21 L405.19,197.23 L405.94,197.24 L406.68,197.26 L407.42,197.28 L408.16,197.29 L408.91,197.31 L409.65,197.33 L410.39,197.34 L411.14,197.36 L411.88,197.37 L412.62,197.39 L413.36,197.40 L414.11,197.42 L414.85,197.43 L415.59,197.45 L416.33,197.46 L417.08,197.47 L417.82,197.49 L418.56,197.50 L419.30,197.51 L420.05,197.53 L420.79,197.54 L421.53,197.55 L422.28,197.56 L423.02,197.58 L423.76,197.59 L424.50,197.60 L425.25,197.61 L425.99,197.62 L426.73,197.64 L427.47,197.65 L428.22,197.66 L428.96,197.67 L429.70,197.68 L430.45,197.69 L431.19,197.70 L431.93,197.71 L432.67,197.72 L433.42,197.73 L434.16,197.74 L434.90,197.75 L435.64,197.76 L436.39,197.77 L437.13,197.78 L437.87,197.79 L438.61,197.80 L439.36,197.81 L440.10,197.82" stroke="#0000ff" stroke-width="2.9"/>
<path d="M72.70,221.38 L73.41,220.86 L74.13,220.35 L74.84,219.83 L75.56,219.30 L76.27,218.78 L76.99,218.24 L77.70,217.71 M81.60,214.72 L82.31,214.16 L83.03,213.61 L83.74,213.05 L84.46,212.48 L85.17,211.92 L85.89,211.36 L86.60,210.79 M89.60,208.41 L90.33,207.83 L91.06,207.25 L91.79,206.67 L92.51,206.10 L93.24,205.52 L93.97,204.95 L94.70,204.37 M98.20,201.65 L98.84,201.15 L99.49,200.66 L100.13,200.17 L100.77,199.68 L101.41,199.20 L102.06,198.72 L102.70,198.24 M106.60,195.41 L107.31,194.91 L108.03,194.41 L108.74,193.92 L109.46,193.43 L110.17,192.94 L110.89,192.47 L111.60,191.99 M115.60,189.44 L116.31,189.00 L117.03,188.57 L117.74,188.15 L118.46,187.73 L119.17,187.31 L119.89,186.91 L120.60,186.51 M124.40,184.49 L125.36,184.01 L126.31,183.54 L127.27,183.09 L128.23,182.65 L129.19,182.23 L130.14,181.81 L131.10,181.41 M134.40,180.15 L135.29,179.84 L136.17,179.54 L137.06,179.26 L137.94,178.99 L138.83,178.73 L139.71,178.48 L140.60,178.25 M143.90,177.52 L144.86,177.34 L145.81,177.17 L146.77,177.02 L147.73,176.89 L148.69,176.77 L149.64,176.66 L150.60,176.56 M154.30,176.31 L155.20,176.27 L156.10,176.25 L157.00,176.23 L157.90,176.23 L158.80,176.23 L159.70,176.24 L160.60,176.26 M165.00,176.47 L165.80,176.53 L166.60,176.59 L167.40,176.66 L168.20,176.73 L169.00,176.80 L169.80,176.89 L170.60,176.97 M175.00,177.50 L175.96,177.63 L176.91,177.76 L177.87,177.90 L178.83,178.04 L179.79,178.18 L180.74,178.32 L181.70,178.47 M185.60,179.09 L186.47,179.23 L187.34,179.37 L188.21,179.51 L189.09,179.66 L189.96,179.80 L190.83,179.95 L191.70,180.10 M196.10,180.86 L196.90,181.00 L197.70,181.14 L198.50,181.28 L199.30,181.42 L200.10,181.56 L200.90,181.70 L201.70,181.84 M206.70,182.74 L207.46,182.87 L208.21,183.01 L208.97,183.14 L209.73,183.28 L210.49,183.42 L211.24,183.55 L212.00,183.69 M216.10,184.41 L217.06,184.58 L218.01,184.75 L218.97,184.92 L219.93,185.08 L220.89,185.25 L221.84,185.41 L222.80,185.58 M227.20,186.31 L228.00,186.44 L228.80,186.57 L229.60,186.70 L230.40,186.83 L231.20,186.95 L232.00,187.08 L232.80,187.20 M237.80,187.96 L238.51,188.07 L239.23,188.17 L239.94,188.28 L240.66,188.38 L241.37,188.48 L242.09,188.58 L242.80,188.68 M248.30,189.44 L249.01,189.53 L249.73,189.63 L250.44,189.72 L251.16,189.81 L251.87,189.91 L252.59,190.00 L253.30,190.09 M258.90,190.78 L259.69,190.87 L260.47,190.96 L261.26,191.05 L262.04,191.14 L262.83,191.23 L263.61,191.32 L264.40,191.41 M269.40,191.96 L270.20,192.04 L271.00,192.13 L271.80,192.21 L272.60,192.29 L273.40,192.38 L274.20,192.46 L275.00,192.54 M279.40,192.96 L280.20,193.04 L281.00,193.11 L281.80,193.19 L282.60,193.26 L283.40,193.33 L284.20,193.41 L285.00,193.48 M290.00,193.91 L290.87,193.98 L291.74,194.05 L292.61,194.12 L293.49,194.19 L294.36,194.26 L295.23,194.33 L296.10,194.40 M301.10,194.77 L301.90,194.83 L302.70,194.89 L303.50,194.95 L304.30,195.00 L305.10,195.06 L305.90,195.11 L306.70,195.17 M311.10,195.46 L311.90,195.51 L312.70,195.56 L313.50,195.61 L314.30,195.66 L315.10,195.70 L315.90,195.75 L316.70,195.80 M321.70,196.09 L322.57,196.13 L323.44,196.18 L324.31,196.23 L325.19,196.27 L326.06,196.32 L326.93,196.37 L327.80,196.41 M332.20,196.63 L332.91,196.66 L333.63,196.69 L334.34,196.73 L335.06,196.76 L335.77,196.79 L336.49,196.83 L337.20,196.86 M342.20,197.07 L343.07,197.11 L343.94,197.14 L344.81,197.18 L345.69,197.21 L346.56,197.25 L347.43,197.28 L348.30,197.31 M353.30,197.50 L354.10,197.53 L354.90,197.55 L355.70,197.58 L356.50,197.61 L357.30,197.64 L358.10,197.66 L358.90,197.69 M363.80,197.84 L364.61,197.87 L365.43,197.89 L366.24,197.92 L367.06,197.94 L367.87,197.96 L368.69,197.99 L369.50,198.01 M374.40,198.15 L375.20,198.17 L376.00,198.19 L376.80,198.21 L377.60,198.23 L378.40,198.25 L379.20,198.27 L380.00,198.29 M385.00,198.41 L385.80,198.43 L386.60,198.45 L387.40,198.47 L388.20,198.49 L389.00,198.50 L389.80,198.52 L390.60,198.54 M395.00,198.64 L395.87,198.66 L396.74,198.68 L397.61,198.69 L398.49,198.71 L399.36,198.73 L400.23,198.75 L401.10,198.77 M406.10,198.87 L406.90,198.89 L407.70,198.90 L408.50,198.92 L409.30,198.94 L410.10,198.95 L410.90,198.97 L411.70,198.99 M416.70,199.09 L417.49,199.10 L418.27,199.12 L419.06,199.13 L419.84,199.15 L420.63,199.17 L421.41,199.18 L422.20,199.20 M427.20,199.30 L428.07,199.32 L428.94,199.34 L429.81,199.36 L430.69,199.38 L431.56,199.39 L432.43,199.41 L433.30,199.43 M437.20,199.52 L437.61,199.53 L438.03,199.54 L438.44,199.55 L438.86,199.56 L439.27,199.57 L439.69,199.58 L440.10,199.58" stroke="#ff0000" stroke-width="1.05"/>
</g>
<g stroke="#000" stroke-width="1.05" fill="none">
<rect x="69.5" y="11.0" width="370.3" height="384.0"/>
<path d="M103.18,395.0 v-6 M103.18,11.0 v6"/>
<path d="M136.86,395.0 v-6 M136.86,11.0 v6"/>
<path d="M170.54,395.0 v-6 M170.54,11.0 v6"/>
<path d="M204.22,395.0 v-6 M204.22,11.0 v6"/>
<path d="M237.90,395.0 v-12.5 M237.90,11.0 v12.5"/>
<path d="M271.58,395.0 v-6 M271.58,11.0 v6"/>
<path d="M305.26,395.0 v-6 M305.26,11.0 v6"/>
<path d="M338.94,395.0 v-6 M338.94,11.0 v6"/>
<path d="M372.62,395.0 v-6 M372.62,11.0 v6"/>
<path d="M406.30,395.0 v-12.5 M406.30,11.0 v12.5"/>
<path d="M69.5,375.80 h6 M439.8,375.80 h-6"/>
<path d="M69.5,356.60 h6 M439.8,356.60 h-6"/>
<path d="M69.5,337.40 h6 M439.8,337.40 h-6"/>
<path d="M69.5,318.20 h6 M439.8,318.20 h-6"/>
<path d="M69.5,299.00 h12.5 M439.8,299.00 h-12.5"/>
<path d="M69.5,279.80 h6 M439.8,279.80 h-6"/>
<path d="M69.5,260.60 h6 M439.8,260.60 h-6"/>
<path d="M69.5,241.40 h6 M439.8,241.40 h-6"/>
<path d="M69.5,222.20 h6 M439.8,222.20 h-6"/>
<path d="M69.5,203.00 h12.5 M439.8,203.00 h-12.5"/>
<path d="M69.5,183.80 h6 M439.8,183.80 h-6"/>
<path d="M69.5,164.60 h6 M439.8,164.60 h-6"/>
<path d="M69.5,145.40 h6 M439.8,145.40 h-6"/>
<path d="M69.5,126.20 h6 M439.8,126.20 h-6"/>
<path d="M69.5,107.00 h12.5 M439.8,107.00 h-12.5"/>
<path d="M69.5,87.80 h6 M439.8,87.80 h-6"/>
<path d="M69.5,68.60 h6 M439.8,68.60 h-6"/>
<path d="M69.5,49.40 h6 M439.8,49.40 h-6"/>
<path d="M69.5,30.20 h6 M439.8,30.20 h-6"/>
</g>
<path transform="translate(47.01,17.30) scale(1.0400,1)" fill="#000" fill-rule="evenodd" d="M2.82,-12.21 2.56,-12.07 1.97,-11.48 1.28,-10.16 1.28,-9.18 1.39,-8.99 2.08,-8.34 2.34,-8.26 2.60,-8.34 3.29,-8.99 3.40,-9.18 3.44,-9.36 3.29,-9.73 2.56,-10.42 2.74,-10.79 3.22,-11.26 4.72,-11.77 6.91,-11.77 7.86,-11.30 8.37,-10.79 8.85,-9.84 8.85,-8.88 8.41,-8.01 6.76,-6.87 3.29,-5.16 1.97,-3.88 1.83,-3.62 1.28,-1.97 1.28,0.18 1.57,0.48 1.75,0.51 2.01,0.44 2.19,0.26 2.27,0.00 2.27,-0.95 2.56,-1.24 3.40,-1.24 6.25,0.48 8.96,0.48 9.14,0.37 9.84,-0.37 10.42,-1.54 10.46,-2.92 10.38,-3.18 10.13,-3.40 9.76,-3.40 9.47,-3.11 9.43,-1.97 9.03,-1.57 8.08,-1.10 6.51,-1.10 3.73,-2.23 2.52,-2.27 2.49,-2.38 2.78,-3.22 3.84,-4.28 5.01,-4.86 7.90,-6.00 9.65,-7.17 9.84,-7.39 10.42,-8.56 10.42,-10.16 9.84,-11.33 9.14,-12.07 8.88,-12.21 7.24,-12.76 4.68,-12.80Z"/>
<path transform="translate(28.75,113.30) scale(1.0400,1)" fill="#000" fill-rule="evenodd" d="M14.62,-1.68 14.26,-1.54 13.67,-0.95 13.53,-0.58 13.67,-0.22 14.26,0.37 14.62,0.51 14.99,0.37 15.58,-0.22 15.72,-0.58 15.58,-0.95 14.99,-1.54ZM20.29,-12.76 20.04,-12.54 19.93,-12.25 18.79,-6.58 18.87,-6.18 19.12,-5.96 19.49,-5.96 19.67,-6.07 20.77,-7.17 22.27,-7.68 23.88,-7.68 24.83,-7.20 25.89,-6.14 26.40,-4.64 26.40,-3.55 25.89,-2.05 24.83,-0.99 23.88,-0.51 22.27,-0.51 20.77,-1.02 20.29,-1.50 20.11,-1.86 20.84,-2.56 20.95,-2.74 20.95,-3.11 20.84,-3.29 20.26,-3.88 20.07,-3.99 19.89,-4.02 19.63,-3.95 18.94,-3.29 18.79,-2.92 18.83,-2.12 19.41,-0.95 20.11,-0.22 20.37,-0.07 22.01,0.48 23.98,0.51 25.85,-0.07 26.11,-0.22 27.35,-1.50 27.97,-3.29 27.97,-4.90 27.42,-6.54 27.28,-6.80 26.00,-8.04 24.20,-8.67 22.23,-8.70 20.37,-8.12 20.18,-8.01 20.15,-8.08 20.80,-11.19 23.55,-11.19 26.29,-11.74 26.58,-11.85 26.76,-12.03 26.84,-12.28 26.80,-12.47 26.58,-12.72 26.32,-12.80ZM6.62,-12.76 6.43,-12.80 6.07,-12.65 4.35,-10.93 3.29,-10.42 3.03,-10.13 3.00,-9.94 3.07,-9.69 3.25,-9.51 3.51,-9.43 3.73,-9.47 4.90,-10.05 5.30,-10.42 5.34,-10.38 5.34,-0.55 3.51,-0.51 3.25,-0.44 3.07,-0.26 3.00,0.00 3.07,0.26 3.33,0.48 8.77,0.51 9.03,0.44 9.25,0.18 9.25,-0.18 8.96,-0.48 6.95,-0.55 6.95,-12.28 6.87,-12.54Z"/>
<path transform="translate(47.01,209.30) scale(1.0400,1)" fill="#000" fill-rule="evenodd" d="M6.62,-12.76 6.43,-12.80 6.07,-12.65 4.35,-10.93 3.29,-10.42 3.03,-10.13 3.00,-9.94 3.07,-9.69 3.25,-9.51 3.51,-9.43 3.73,-9.47 4.90,-10.05 5.30,-10.42 5.34,-10.38 5.34,-0.55 3.51,-0.51 3.25,-0.44 3.07,-0.26 3.00,0.00 3.07,0.26 3.33,0.48 8.77,0.51 9.03,0.44 9.25,0.18 9.25,-0.18 8.96,-0.48 6.95,-0.55 6.95,-12.28 6.87,-12.54Z"/>
<path transform="translate(28.75,305.30) scale(1.0400,1)" fill="#000" fill-rule="evenodd" d="M14.62,-1.68 14.26,-1.54 13.67,-0.95 13.53,-0.58 13.67,-0.22 14.26,0.37 14.62,0.51 14.99,0.37 15.58,-0.22 15.72,-0.58 15.58,-0.95 14.99,-1.54ZM20.29,-12.76 20.04,-12.54 19.93,-12.25 18.79,-6.58 18.87,-6.18 19.12,-5.96 19.49,-5.96 19.67,-6.07 20.77,-7.17 22.27,-7.68 23.88,-7.68 24.83,-7.20 25.89,-6.14 26.40,-4.64 26.40,-3.55 25.89,-2.05 24.83,-0.99 23.88,-0.51 22.27,-0.51 20.77,-1.02 20.29,-1.50 20.11,-1.86 20.84,-2.56 20.95,-2.74 20.95,-3.11 20.84,-3.29 20.26,-3.88 20.07,-3.99 19.89,-4.02 19.63,-3.95 18.94,-3.29 18.79,-2.92 18.83,-2.12 19.41,-0.95 20.11,-0.22 20.37,-0.07 22.01,0.48 23.98,0.51 25.85,-0.07 26.11,-0.22 27.35,-1.50 27.97,-3.29 27.97,-4.90 27.42,-6.54 27.28,-6.80 26.00,-8.04 24.20,-8.67 22.23,-8.70 20.37,-8.12 20.18,-8.01 20.15,-8.08 20.80,-11.19 23.55,-11.19 26.29,-11.74 26.58,-11.85 26.76,-12.03 26.84,-12.28 26.80,-12.47 26.58,-12.72 26.32,-12.80ZM5.26,-12.80 3.25,-12.14 3.07,-11.99 1.90,-10.24 1.24,-7.17 1.24,-5.12 1.83,-2.23 3.07,-0.29 3.40,-0.07 5.05,0.48 6.43,0.51 8.45,-0.15 8.63,-0.29 9.80,-2.05 10.46,-5.12 10.46,-7.17 9.87,-10.05 8.63,-11.99 8.30,-12.21 6.65,-12.76ZM5.37,-11.77 6.33,-11.77 7.28,-11.30 7.79,-10.79 8.30,-9.76 8.85,-7.02 8.85,-5.26 8.30,-2.52 7.79,-1.50 7.28,-0.99 6.33,-0.51 5.37,-0.51 4.42,-0.99 3.91,-1.50 3.40,-2.52 2.85,-5.26 2.85,-7.02 3.40,-9.76 3.91,-10.79 4.42,-11.30Z"/>
<path transform="translate(47.01,401.30) scale(1.0400,1)" fill="#000" fill-rule="evenodd" d="M5.26,-12.80 3.25,-12.14 3.07,-11.99 1.90,-10.24 1.24,-7.17 1.24,-5.12 1.83,-2.23 3.07,-0.29 3.40,-0.07 5.05,0.48 6.43,0.51 8.45,-0.15 8.63,-0.29 9.80,-2.05 10.46,-5.12 10.46,-7.17 9.87,-10.05 8.63,-11.99 8.30,-12.21 6.65,-12.76ZM5.37,-11.77 6.33,-11.77 7.28,-11.30 7.79,-10.79 8.30,-9.76 8.85,-7.02 8.85,-5.26 8.30,-2.52 7.79,-1.50 7.28,-0.99 6.33,-0.51 5.37,-0.51 4.42,-0.99 3.91,-1.50 3.40,-2.52 2.85,-5.26 2.85,-7.02 3.40,-9.76 3.91,-10.79 4.42,-11.30Z"/>
<path transform="translate(63.08,418.60) scale(1.0600,1)" fill="#000" fill-rule="evenodd" d="M5.26,-12.80 3.25,-12.14 3.07,-11.99 1.90,-10.24 1.24,-7.17 1.24,-5.12 1.83,-2.23 3.07,-0.29 3.40,-0.07 5.05,0.48 6.43,0.51 8.45,-0.15 8.63,-0.29 9.80,-2.05 10.46,-5.12 10.46,-7.17 9.87,-10.05 8.63,-11.99 8.30,-12.21 6.65,-12.76ZM5.37,-11.77 6.33,-11.77 7.28,-11.30 7.79,-10.79 8.30,-9.76 8.85,-7.02 8.85,-5.26 8.30,-2.52 7.79,-1.50 7.28,-0.99 6.33,-0.51 5.37,-0.51 4.42,-0.99 3.91,-1.50 3.40,-2.52 2.85,-5.26 2.85,-7.02 3.40,-9.76 3.91,-10.79 4.42,-11.30Z"/>
<path transform="translate(231.48,418.60) scale(1.0600,1)" fill="#000" fill-rule="evenodd" d="M2.74,-12.76 2.49,-12.54 2.38,-12.25 1.24,-6.58 1.32,-6.18 1.57,-5.96 1.94,-5.96 2.12,-6.07 3.22,-7.17 4.72,-7.68 6.33,-7.68 7.28,-7.20 8.34,-6.14 8.85,-4.64 8.85,-3.55 8.34,-2.05 7.28,-0.99 6.33,-0.51 4.72,-0.51 3.22,-1.02 2.74,-1.50 2.56,-1.86 3.29,-2.56 3.40,-2.74 3.40,-3.11 3.29,-3.29 2.71,-3.88 2.52,-3.99 2.34,-4.02 2.08,-3.95 1.39,-3.29 1.24,-2.92 1.28,-2.12 1.86,-0.95 2.56,-0.22 2.82,-0.07 4.46,0.48 6.43,0.51 8.30,-0.07 8.56,-0.22 9.80,-1.50 10.42,-3.29 10.42,-4.90 9.87,-6.54 9.73,-6.80 8.45,-8.04 6.65,-8.67 4.68,-8.70 2.82,-8.12 2.63,-8.01 2.60,-8.08 3.25,-11.19 6.00,-11.19 8.74,-11.74 9.03,-11.85 9.21,-12.03 9.29,-12.28 9.25,-12.47 9.03,-12.72 8.77,-12.80Z"/>
<path transform="translate(393.67,418.60) scale(1.0600,1)" fill="#000" fill-rule="evenodd" d="M16.96,-12.80 14.95,-12.14 14.77,-11.99 13.60,-10.24 12.94,-7.17 12.94,-5.12 13.53,-2.23 14.77,-0.29 15.10,-0.07 16.75,0.48 18.13,0.51 20.15,-0.15 20.33,-0.29 21.50,-2.05 22.16,-5.12 22.16,-7.17 21.57,-10.05 20.33,-11.99 20.00,-12.21 18.35,-12.76ZM17.07,-11.77 18.03,-11.77 18.98,-11.30 19.49,-10.79 20.00,-9.76 20.55,-7.02 20.55,-5.26 20.00,-2.52 19.49,-1.50 18.98,-0.99 18.03,-0.51 17.07,-0.51 16.12,-0.99 15.61,-1.50 15.10,-2.52 14.55,-5.26 14.55,-7.02 15.10,-9.76 15.61,-10.79 16.12,-11.30ZM6.62,-12.76 6.43,-12.80 6.07,-12.65 4.35,-10.93 3.29,-10.42 3.03,-10.13 3.00,-9.94 3.07,-9.69 3.25,-9.51 3.51,-9.43 3.73,-9.47 4.90,-10.05 5.30,-10.42 5.34,-10.38 5.34,-0.55 3.51,-0.51 3.25,-0.44 3.07,-0.26 3.00,0.00 3.07,0.26 3.33,0.48 8.77,0.51 9.03,0.44 9.25,0.18 9.25,-0.18 8.96,-0.48 6.95,-0.55 6.95,-12.28 6.87,-12.54Z"/>
<path transform="translate(211.21,441.40) scale(0.9713,1)" fill="#000" fill-rule="evenodd" d="M3.95,-9.35 2.21,-7.61 1.57,-5.70 1.53,-5.44 1.57,-3.83 2.21,-1.91 3.95,-0.17 6.12,0.51 7.69,0.47 9.05,-0.21 9.65,-0.81 9.69,-0.77 9.69,4.21 9.65,4.25 7.99,4.29 7.69,4.59 7.65,4.76 7.74,5.02 7.91,5.19 8.16,5.27 12.92,5.27 13.18,5.19 13.35,5.02 13.43,4.76 13.35,4.51 13.18,4.33 12.92,4.25 11.43,4.25 11.39,4.21 11.39,-9.52 11.31,-9.78 11.14,-9.95 10.88,-10.03 10.54,-9.86 10.20,-10.03 9.95,-9.95 9.78,-9.78 9.69,-9.52 9.69,-8.76 9.65,-8.71 9.05,-9.31 7.69,-9.99 7.48,-10.03 5.87,-9.99ZM6.21,-9.01 7.40,-9.01 8.59,-8.42 9.69,-7.31 9.69,-2.21 8.59,-1.10 7.40,-0.51 6.21,-0.51 5.02,-1.10 3.87,-2.25 3.23,-4.12 3.23,-5.40 3.87,-7.27 5.02,-8.42Z"/>
<path transform="translate(224.18,447.30) scale(1.2624,1)" fill="#000" fill-rule="evenodd" d="M0.45,-8.18 0.35,-8.07 0.25,-7.78 0.25,-5.55 0.35,-5.25 0.60,-5.08 0.75,-5.05 1.05,-5.15 1.23,-5.40 1.55,-7.28 2.83,-7.25 2.83,-0.53 2.23,-0.50 1.93,-0.40 1.82,-0.30 1.73,0.00 1.82,0.30 1.93,0.40 2.23,0.50 4.80,0.50 5.10,0.40 5.20,0.30 5.30,0.00 5.20,-0.30 4.95,-0.47 4.20,-0.53 4.20,-7.25 5.47,-7.28 5.83,-5.40 6.00,-5.15 6.15,-5.08 6.45,-5.08 6.70,-5.25 6.80,-5.55 6.80,-7.78 6.70,-8.07 6.60,-8.18 6.30,-8.28 0.75,-8.28Z"/>
<path transform="translate(252.75,442.00) scale(1.0302,1)" fill="#000" fill-rule="evenodd" d="M23.00,-7.50 21.38,-7.00 20.09,-5.78 19.53,-4.22 19.50,-3.00 20.00,-1.38 21.22,-0.09 22.78,0.47 24.00,0.50 25.78,-0.09 26.91,-1.22 27.00,-1.50 26.91,-1.78 26.66,-1.97 26.34,-1.97 26.22,-1.91 25.25,-0.94 23.94,-0.50 23.09,-0.50 22.28,-0.91 21.44,-1.75 21.00,-3.06 21.00,-3.47 26.66,-3.53 26.78,-3.59 26.97,-3.84 27.00,-5.00 26.94,-5.25 26.47,-6.19 25.69,-6.97 24.75,-7.44 24.50,-7.50ZM21.22,-4.59 21.44,-5.25 22.28,-6.09 23.09,-6.50 24.41,-6.50 25.09,-6.16 25.50,-5.41 25.47,-4.50 21.25,-4.50ZM28.34,-10.97 28.09,-10.78 28.00,-10.50 28.09,-10.22 28.34,-10.03 29.16,-9.97 32.50,0.12 32.72,0.41 33.00,0.50 33.28,0.41 33.50,0.12 36.84,-9.97 37.50,-10.00 37.78,-10.09 37.97,-10.34 37.97,-10.66 37.78,-10.91 37.50,-11.00 34.50,-11.00 34.22,-10.91 34.09,-10.78 34.00,-10.50 34.09,-10.22 34.22,-10.09 34.50,-10.00 35.75,-10.00 35.78,-9.91 33.25,-2.38 30.72,-9.91 30.75,-10.00 31.50,-10.00 31.78,-10.09 31.91,-10.22 32.00,-10.50 31.91,-10.78 31.78,-10.91 31.50,-11.00ZM10.38,-10.50 10.22,-10.41 9.03,-9.19 8.50,-8.12 8.03,-6.72 8.03,-3.78 8.50,-2.38 9.03,-1.31 10.22,-0.09 11.78,0.47 13.22,0.47 14.62,0.00 14.97,-0.28 15.03,0.16 15.22,0.41 15.50,0.50 15.75,0.41 16.00,0.50 16.28,0.41 16.41,0.28 16.50,0.00 16.50,-3.47 17.50,-3.50 17.78,-3.59 17.91,-3.72 18.00,-4.00 17.91,-4.28 17.78,-4.41 17.50,-4.50 14.00,-4.50 13.72,-4.41 13.59,-4.28 13.50,-4.00 13.59,-3.72 13.72,-3.59 14.00,-3.50 15.00,-3.47 15.00,-1.69 14.25,-0.94 12.94,-0.50 12.09,-0.50 11.28,-0.91 10.41,-1.78 9.97,-2.66 9.50,-4.06 9.50,-6.44 9.97,-7.84 10.41,-8.72 11.28,-9.59 12.09,-10.00 12.94,-10.00 14.25,-9.56 15.06,-8.75 15.59,-7.22 15.72,-7.09 16.00,-7.00 16.28,-7.09 16.41,-7.22 16.50,-7.50 16.50,-10.50 16.41,-10.78 16.28,-10.91 16.00,-11.00 15.72,-10.91 15.50,-10.62 15.25,-9.94 14.62,-10.50 13.00,-11.00 11.78,-10.97ZM39.34,-12.97 39.09,-12.78 39.00,-12.50 39.09,-12.22 39.34,-12.03 42.00,-11.97 42.00,2.97 39.34,3.03 39.09,3.22 39.00,3.50 39.03,3.66 39.22,3.91 39.50,4.00 43.16,3.97 43.41,3.78 43.50,3.50 43.47,-12.66 43.28,-12.91 43.00,-13.00ZM1.84,-12.97 1.59,-12.78 1.50,-12.50 1.53,3.66 1.72,3.91 2.00,4.00 5.66,3.97 5.91,3.78 6.00,3.50 5.91,3.22 5.66,3.03 3.00,2.97 3.00,-11.97 5.66,-12.03 5.91,-12.22 6.00,-12.50 5.97,-12.66 5.78,-12.91 5.50,-13.00Z"/>
<path transform="translate(17.60,272.20) rotate(-90) translate(-0.68,0.00) scale(1.0000,1)" fill="#000" fill-rule="evenodd" d="M1.14,-15.14 0.96,-14.96 0.88,-14.70 0.96,-14.44 1.14,-14.26 1.40,-14.17 2.93,-14.17 2.98,-14.13 2.98,-0.57 2.93,-0.53 1.22,-0.48 0.92,-0.17 0.88,0.00 0.96,0.26 1.14,0.44 1.40,0.53 6.30,0.53 6.56,0.44 6.74,0.26 6.83,0.00 6.78,-0.17 6.47,-0.48 4.77,-0.53 4.72,-0.57 4.72,-7.13 4.77,-7.17 7.61,-7.17 8.75,-6.56 9.32,-5.42 10.67,-0.57 10.76,-0.44 11.72,0.48 13.30,0.53 13.56,0.44 13.78,0.22 14.48,-1.18 14.53,-2.10 14.44,-2.36 14.17,-2.58 14.00,-2.62 13.74,-2.54 13.52,-2.27 13.47,-1.57 13.12,-1.22 12.78,-1.22 12.38,-1.62 10.28,-6.52 9.67,-7.13 12.03,-7.88 13.08,-8.88 13.78,-10.28 13.82,-10.50 13.78,-12.12 13.08,-13.52 12.03,-14.53 9.80,-15.22 1.40,-15.22ZM4.72,-14.13 4.77,-14.17 9.71,-14.17 10.94,-13.56 11.46,-13.04 12.07,-11.81 12.07,-10.59 11.46,-9.36 10.94,-8.84 9.71,-8.22 4.77,-8.22 4.72,-8.27Z"/>
<path transform="translate(17.60,272.20) rotate(-90) translate(14.16,7.20) scale(1.0174,1)" fill="#000" fill-rule="evenodd" d="M18.53,-6.46 18.42,-6.16 18.48,-5.94 18.62,-5.77 18.92,-5.66 19.74,-5.64 19.74,-1.32 19.80,-1.07 20.21,-0.25 20.38,-0.05 20.57,0.05 22.00,0.49 23.07,0.47 24.31,0.05 24.53,-0.08 24.69,0.30 24.86,0.44 25.08,0.49 26.84,0.49 27.06,0.44 27.22,0.30 27.33,0.00 27.28,-0.22 27.14,-0.38 26.84,-0.49 26.01,-0.52 26.01,-6.16 25.96,-6.38 25.82,-6.54 25.52,-6.65 23.76,-6.65 23.54,-6.60 23.32,-6.38 23.29,-6.02 23.37,-5.86 23.54,-5.72 24.58,-5.64 24.58,-1.54 23.90,-0.85 22.82,-0.49 22.11,-0.49 21.50,-0.80 21.17,-1.43 21.17,-6.16 21.06,-6.46 20.90,-6.60 20.68,-6.65 18.92,-6.65 18.70,-6.60ZM13.86,-9.68 13.64,-9.73 13.42,-9.68 13.14,-9.35 10.23,-0.55 10.17,-0.49 9.54,-0.47 9.38,-0.38 9.24,-0.22 9.21,0.14 9.29,0.30 9.46,0.44 9.68,0.49 12.32,0.49 12.54,0.44 12.70,0.30 12.81,0.00 12.70,-0.30 12.54,-0.44 12.32,-0.49 11.25,-0.52 11.82,-2.15 15.01,-2.15 15.59,-0.52 14.82,-0.47 14.57,-0.30 14.46,0.00 14.57,0.30 14.74,0.44 14.96,0.49 17.60,0.49 17.82,0.44 18.04,0.22 18.07,-0.14 17.90,-0.38 17.60,-0.49 17.10,-0.49 17.05,-0.55 14.13,-9.35ZM13.42,-6.98 14.68,-3.13 12.13,-3.16ZM5.06,-9.68 4.84,-9.46 4.78,-9.24 4.84,-9.02 4.98,-8.85 5.28,-8.74 6.10,-8.72 6.10,-6.10 6.05,-6.08 4.98,-6.63 3.77,-6.63 2.53,-6.21 2.28,-6.08 1.40,-5.20 1.26,-4.95 0.82,-3.52 0.85,-2.45 1.26,-1.21 1.40,-0.96 2.28,-0.08 2.53,0.05 3.77,0.47 4.98,0.47 6.05,-0.08 6.21,0.30 6.46,0.47 8.36,0.49 8.58,0.44 8.80,0.22 8.85,0.00 8.80,-0.22 8.66,-0.38 8.36,-0.49 7.53,-0.52 7.53,-9.24 7.48,-9.46 7.26,-9.68 7.04,-9.73 5.28,-9.73ZM4.07,-5.66 4.73,-5.66 5.39,-5.33 6.10,-4.62 6.10,-1.54 5.39,-0.82 4.73,-0.49 4.07,-0.49 3.41,-0.82 2.61,-1.62 2.25,-2.69 2.25,-3.46 2.61,-4.54 3.41,-5.33Z"/>
<path transform="translate(17.60,272.20) rotate(-90) translate(50.56,0.00) scale(0.9240,1)" fill="#000" fill-rule="evenodd" d="M44.72,-1.56 44.43,-1.46 43.78,-0.81 43.68,-0.52 43.78,-0.23 44.43,0.42 44.72,0.52 45.01,0.42 45.66,-0.23 45.76,-0.52 45.66,-0.81 45.01,-1.46ZM19.76,-3.12 19.86,-2.83 19.99,-2.70 20.28,-2.60 29.64,-2.60 29.93,-2.70 30.06,-2.83 30.16,-3.12 30.06,-3.41 29.93,-3.54 29.64,-3.64 20.28,-3.64 19.99,-3.54 19.86,-3.41ZM19.76,-6.24 19.86,-5.95 19.99,-5.82 20.28,-5.72 29.64,-5.72 29.93,-5.82 30.06,-5.95 30.16,-6.24 30.06,-6.53 29.93,-6.66 29.64,-6.76 20.28,-6.76 19.99,-6.66 19.86,-6.53ZM73.35,-7.44 73.35,-7.12 73.42,-6.99 73.68,-6.79 74.88,-6.73 74.88,-0.55 73.84,-0.52 73.55,-0.42 73.42,-0.29 73.32,0.00 73.42,0.29 73.68,0.49 77.48,0.52 77.77,0.42 77.90,0.29 78.00,0.00 77.90,-0.29 77.77,-0.42 77.48,-0.52 76.44,-0.55 76.44,-5.53 77.22,-6.31 78.59,-6.76 79.46,-6.76 80.18,-6.40 80.60,-5.62 80.60,-0.55 79.56,-0.52 79.27,-0.42 79.14,-0.29 79.04,0.00 79.14,0.29 79.27,0.42 79.56,0.52 83.20,0.52 83.49,0.42 83.62,0.29 83.72,0.00 83.62,-0.29 83.49,-0.42 83.20,-0.52 82.16,-0.55 82.16,-5.53 82.94,-6.31 84.31,-6.76 85.18,-6.76 85.90,-6.40 86.32,-5.62 86.32,-0.55 85.28,-0.52 84.99,-0.42 84.86,-0.29 84.76,0.00 84.86,0.29 84.99,0.42 85.28,0.52 88.92,0.52 89.21,0.42 89.41,0.16 89.41,-0.16 89.34,-0.29 89.08,-0.49 87.88,-0.55 87.88,-5.72 87.82,-5.98 87.33,-6.96 86.97,-7.28 85.51,-7.77 84.24,-7.80 82.55,-7.28 81.80,-6.60 81.54,-7.05 81.25,-7.28 79.56,-7.80 78.29,-7.77 76.83,-7.28 76.47,-6.99 76.34,-7.57 76.21,-7.70 75.92,-7.80 73.84,-7.80 73.55,-7.70ZM71.40,-11.41 70.04,-11.41 68.87,-10.82 68.67,-10.60 68.15,-9.52 68.12,-7.83 66.92,-7.77 66.79,-7.70 66.59,-7.44 66.59,-7.12 66.66,-6.99 66.92,-6.79 68.12,-6.73 68.12,-0.55 67.08,-0.52 66.79,-0.42 66.66,-0.29 66.56,0.00 66.66,0.29 66.92,0.49 70.72,0.52 71.01,0.42 71.21,0.16 71.21,-0.16 71.14,-0.29 70.88,-0.49 69.68,-0.55 69.68,-6.73 71.40,-6.79 71.66,-6.99 71.76,-7.28 71.66,-7.57 71.40,-7.77 69.71,-7.80 69.68,-9.26 70.10,-10.11 70.40,-10.40 70.49,-10.37 70.23,-10.04 70.23,-9.72 70.30,-9.59 71.08,-8.87 71.24,-8.84 71.53,-8.94 72.18,-9.59 72.28,-9.88 72.25,-10.56 72.18,-10.69ZM48.72,-11.41 48.46,-11.21 48.36,-10.92 48.36,-7.80 48.46,-7.51 48.72,-7.31 49.04,-7.31 49.17,-7.38 49.37,-7.64 49.40,-8.74 49.76,-9.46 50.54,-9.88 51.42,-9.88 53.89,-8.87 55.12,-8.84 55.38,-8.94 55.45,-8.91 55.19,-8.06 52.55,-5.40 52.00,-4.29 51.51,-2.83 51.51,0.16 51.58,0.29 51.84,0.49 52.00,0.52 52.26,0.42 52.52,0.52 52.68,0.49 52.94,0.29 53.04,0.00 53.04,-2.54 53.53,-4.00 53.98,-4.91 56.16,-7.67 56.65,-9.13 56.65,-11.08 56.45,-11.34 56.16,-11.44 56.00,-11.41 55.74,-11.21 55.22,-10.17 54.93,-9.88 54.21,-9.88 51.64,-11.41 50.28,-11.41 50.15,-11.34 49.43,-10.63 49.30,-11.21 49.04,-11.41ZM34.16,-11.41 33.90,-11.21 33.80,-11.02 32.76,-5.82 32.86,-5.43 33.12,-5.23 33.44,-5.23 33.57,-5.30 34.58,-6.31 35.95,-6.76 37.34,-6.76 38.19,-6.34 39.07,-5.46 39.52,-4.10 39.52,-3.19 39.07,-1.82 38.19,-0.94 37.34,-0.52 35.95,-0.52 34.58,-0.98 34.22,-1.33 34.09,-1.66 34.74,-2.31 34.84,-2.60 34.74,-2.89 33.96,-3.61 33.80,-3.64 33.51,-3.54 32.86,-2.89 32.76,-2.60 32.76,-2.08 32.83,-1.82 33.38,-0.75 34.03,-0.10 35.65,0.49 37.44,0.52 39.13,0.00 39.29,-0.10 40.46,-1.27 41.05,-2.89 41.05,-4.39 40.46,-6.01 39.29,-7.18 37.67,-7.77 35.88,-7.80 34.16,-7.25 34.12,-7.38 34.61,-9.82 34.68,-9.88 37.02,-9.88 39.62,-10.40 39.94,-10.63 40.04,-10.92 40.01,-11.08 39.81,-11.34 39.52,-11.44ZM8.03,-11.34 7.90,-11.21 7.80,-10.92 7.90,-10.63 8.03,-10.50 8.32,-10.40 9.36,-10.37 9.36,0.00 9.46,0.29 9.59,0.42 9.88,0.52 10.14,0.42 10.40,0.52 10.56,0.49 10.82,0.29 10.95,-0.29 11.25,-0.03 12.32,0.49 13.52,0.52 13.75,0.49 15.37,-0.10 16.54,-1.27 17.13,-2.89 17.13,-4.39 16.54,-6.01 15.37,-7.18 13.75,-7.77 12.32,-7.77 11.25,-7.25 10.95,-6.99 10.92,-10.92 10.82,-11.21 10.69,-11.34 10.40,-11.44 8.32,-11.44ZM12.58,-6.76 13.42,-6.76 14.27,-6.34 15.15,-5.46 15.60,-4.10 15.60,-3.19 15.15,-1.82 14.27,-0.94 13.42,-0.52 12.58,-0.52 11.73,-0.94 10.92,-1.76 10.92,-5.53 11.73,-6.34ZM91.52,-13.52 91.23,-13.42 91.10,-13.29 91.00,-13.00 91.10,-12.71 92.14,-11.67 93.11,-9.72 93.63,-8.16 94.12,-5.75 94.12,-3.61 93.63,-1.20 93.11,0.36 92.14,2.31 91.10,3.35 91.00,3.64 91.10,3.93 91.23,4.06 91.52,4.16 91.81,4.06 93.05,2.83 94.02,1.37 95.16,-0.94 95.68,-3.54 95.68,-5.82 95.10,-8.58 94.02,-10.73 93.05,-12.19 91.81,-13.42ZM5.72,-13.52 5.43,-13.42 4.19,-12.19 3.22,-10.73 2.08,-8.42 1.56,-5.82 1.56,-3.54 2.15,-0.78 3.22,1.37 4.19,2.83 5.43,4.06 5.72,4.16 6.01,4.06 6.14,3.93 6.24,3.64 6.14,3.35 5.10,2.31 4.13,0.36 3.61,-1.20 3.12,-3.61 3.12,-5.75 3.61,-8.16 4.13,-9.72 5.10,-11.67 6.14,-12.71 6.24,-13.00 6.14,-13.29 6.01,-13.42Z"/>
<path transform="translate(323.28,45.00) scale(0.9889,1)" fill="#000" fill-rule="evenodd" d="M23.24,-8.01 23.13,-7.70 23.17,-7.53 23.34,-7.29 23.65,-7.18 24.78,-7.15 24.78,-1.65 24.85,-1.38 25.37,-0.34 25.54,-0.14 25.71,-0.03 27.50,0.52 28.84,0.48 30.39,-0.03 30.80,-0.34 30.87,0.17 30.94,0.31 31.18,0.48 33.55,0.52 33.72,0.48 33.96,0.31 34.07,0.00 34.03,-0.17 33.86,-0.41 33.55,-0.52 32.42,-0.55 32.42,-7.70 32.38,-7.87 32.21,-8.11 31.90,-8.22 29.70,-8.22 29.39,-8.11 29.22,-7.87 29.22,-7.53 29.29,-7.39 29.53,-7.22 30.83,-7.15 30.83,-1.89 29.94,-1.00 28.53,-0.52 27.60,-0.52 26.85,-0.89 26.37,-1.75 26.37,-7.70 26.26,-8.01 26.16,-8.11 25.85,-8.22 23.65,-8.22 23.48,-8.18ZM17.22,-12.03 16.88,-12.03 16.74,-11.96 16.53,-11.69 12.86,-0.58 12.79,-0.52 11.93,-0.48 11.79,-0.41 11.62,-0.17 11.62,0.17 11.69,0.31 11.93,0.48 15.40,0.52 15.57,0.48 15.81,0.31 15.92,0.00 15.81,-0.31 15.57,-0.48 13.92,-0.55 14.64,-2.72 14.71,-2.78 18.84,-2.78 18.91,-2.72 19.63,-0.55 18.70,-0.52 18.39,-0.41 18.29,-0.31 18.18,0.00 18.29,0.31 18.53,0.48 22.00,0.52 22.31,0.41 22.48,0.17 22.48,-0.17 22.31,-0.41 22.00,-0.52 21.31,-0.52 21.24,-0.58 17.57,-11.69 17.46,-11.86ZM16.78,-9.04 18.53,-3.85 18.49,-3.82 15.02,-3.85ZM6.43,-12.03 6.19,-11.86 6.08,-11.55 6.12,-11.38 6.29,-11.14 6.60,-11.03 7.73,-11.00 7.73,-7.39 7.70,-7.36 7.36,-7.63 6.33,-8.15 6.05,-8.22 4.71,-8.18 3.16,-7.67 2.92,-7.53 1.82,-6.43 1.68,-6.19 1.17,-4.64 1.17,-3.06 1.68,-1.51 1.82,-1.27 2.92,-0.17 3.16,-0.03 4.71,0.48 6.22,0.48 7.36,-0.07 7.70,-0.34 7.77,0.17 7.84,0.31 8.08,0.48 10.62,0.48 10.86,0.31 10.97,0.00 10.93,-0.17 10.76,-0.41 10.45,-0.52 9.32,-0.55 9.28,-11.72 9.11,-11.96 8.80,-12.07ZM5.05,-7.18 5.95,-7.18 6.77,-6.77 7.73,-5.81 7.73,-1.89 6.77,-0.93 5.95,-0.52 5.05,-0.52 4.23,-0.93 3.20,-1.96 2.72,-3.37 2.72,-4.33 3.20,-5.74 4.23,-6.77Z"/>
<path d="M365.6,41.5 H388.8 M378.7,38.6 L389.3,41.5 L378.7,44.4" stroke="#000" stroke-width="1" fill="none" stroke-linecap="round"/>
<path transform="translate(394.20,45.00) scale(0.570)" stroke="#000" stroke-width="2.28" fill="none" stroke-linecap="round" stroke-linejoin="round" d="M1,-10.5 C2.5,-13.5 4,-14 6,-14 H19 M8.5,-14 L4.5,0 M14.5,-14 L15,0"/>
<path transform="translate(405.67,40.30) scale(0.8987,1)" fill="#000" fill-rule="evenodd" d="M2.98,-7.45 1.68,-7.03 0.90,-5.95 0.78,-5.62 0.47,-4.12 0.47,-2.83 0.88,-1.02 1.52,-0.05 1.82,0.17 2.80,0.50 3.62,0.53 4.92,0.10 5.72,-1.02 6.12,-2.83 6.12,-4.12 5.80,-5.72 5.10,-6.85 4.72,-7.12 3.83,-7.42ZM3.08,-6.40 3.52,-6.40 3.98,-6.17 4.20,-5.95 4.45,-5.45 4.75,-3.98 4.75,-2.95 4.45,-1.48 4.20,-0.97 3.98,-0.75 3.52,-0.53 3.08,-0.53 2.62,-0.75 2.40,-0.97 2.15,-1.48 1.85,-2.95 1.85,-3.98 2.15,-5.45 2.40,-5.95 2.62,-6.17Z"/>
<path transform="translate(412.37,45.00) scale(0.9667,1)" fill="#000" fill-rule="evenodd" d="M0.24,-11.96 0.14,-11.86 0.03,-11.55 0.14,-11.24 0.38,-11.07 1.34,-11.03 4.74,-5.53 1.38,-0.52 0.55,-0.52 0.24,-0.41 0.14,-0.31 0.03,0.00 0.14,0.31 0.24,0.41 0.55,0.52 3.85,0.52 4.16,0.41 4.26,0.31 4.37,0.00 4.33,-0.17 4.16,-0.41 3.85,-0.52 2.61,-0.55 5.33,-4.61 7.84,-0.58 7.80,-0.52 7.15,-0.52 6.84,-0.41 6.74,-0.31 6.63,0.00 6.67,0.17 6.84,0.41 7.15,0.52 10.45,0.52 10.76,0.41 10.86,0.31 10.97,0.00 10.86,-0.31 10.62,-0.48 9.66,-0.52 6.26,-6.02 9.62,-11.03 10.45,-11.03 10.76,-11.14 10.86,-11.24 10.97,-11.55 10.86,-11.86 10.76,-11.96 10.45,-12.07 7.15,-12.07 6.84,-11.96 6.74,-11.86 6.63,-11.55 6.67,-11.38 6.84,-11.14 7.15,-11.03 8.39,-11.00 5.67,-6.94 3.16,-10.97 3.20,-11.03 3.85,-11.03 4.16,-11.14 4.26,-11.24 4.37,-11.55 4.33,-11.72 4.16,-11.96 3.85,-12.07 0.55,-12.07Z"/>
<path d="M262.4,63.8 L265.4,62.3 L270.1,70.0 L278.5,52.0" stroke="#000" stroke-width="1.2" fill="none" stroke-linejoin="round" stroke-linecap="round"/>
<path transform="translate(278.36,70.20) scale(1.0071,1)" fill="#000" fill-rule="evenodd" d="M11.03,-3.30 11.14,-2.99 11.24,-2.89 11.55,-2.78 21.45,-2.78 21.76,-2.89 21.86,-2.99 21.97,-3.30 21.86,-3.61 21.76,-3.71 21.45,-3.82 11.55,-3.82 11.24,-3.71 11.14,-3.61ZM11.03,-6.60 11.14,-6.29 11.24,-6.19 11.55,-6.08 21.45,-6.08 21.76,-6.19 21.86,-6.29 21.97,-6.60 21.86,-6.91 21.76,-7.01 21.45,-7.12 11.55,-7.12 11.24,-7.01 11.14,-6.91ZM3.02,-8.15 1.82,-7.53 1.27,-6.98 1.13,-6.60 1.13,-5.50 1.27,-5.12 1.99,-4.47 3.23,-3.85 5.88,-2.82 6.77,-2.37 7.18,-1.96 7.18,-1.34 6.77,-0.93 5.95,-0.52 3.95,-0.52 3.13,-0.93 2.58,-1.48 2.13,-2.41 1.96,-2.61 1.65,-2.72 1.48,-2.68 1.24,-2.51 1.13,-2.20 1.17,0.17 1.24,0.31 1.48,0.48 1.82,0.48 2.06,0.31 2.34,-0.21 3.58,0.45 3.85,0.52 6.05,0.52 6.33,0.45 7.53,-0.17 8.08,-0.72 8.18,-0.93 8.22,-2.75 8.08,-3.13 7.36,-3.78 6.12,-4.40 3.47,-5.43 2.58,-5.88 2.17,-6.29 2.17,-6.36 2.58,-6.77 3.40,-7.18 5.40,-7.18 6.22,-6.77 6.77,-6.22 7.22,-5.29 7.39,-5.09 7.70,-4.98 7.87,-5.02 8.11,-5.19 8.22,-5.50 8.18,-7.87 8.11,-8.01 7.87,-8.18 7.53,-8.18 7.29,-8.01 7.01,-7.49 5.78,-8.15 5.50,-8.22 3.30,-8.22ZM50.60,-12.07 50.36,-12.03 48.64,-11.41 47.44,-9.66 47.30,-9.32 46.78,-6.74 46.78,-4.81 47.33,-2.10 48.54,-0.24 48.81,-0.03 50.36,0.48 51.70,0.52 51.94,0.48 53.66,-0.14 54.86,-1.89 55.00,-2.23 55.52,-4.81 55.52,-6.74 54.97,-9.45 53.76,-11.31 53.49,-11.52 51.94,-12.03ZM50.70,-11.03 51.60,-11.03 52.42,-10.62 52.97,-10.07 53.42,-9.18 53.93,-6.60 53.93,-4.95 53.42,-2.37 52.97,-1.48 52.42,-0.93 51.60,-0.52 50.70,-0.52 49.88,-0.93 49.33,-1.48 48.88,-2.37 48.37,-4.95 48.37,-6.60 48.88,-9.18 49.33,-10.07 49.88,-10.62ZM39.60,-12.07 39.36,-12.03 37.64,-11.41 36.44,-9.66 36.30,-9.32 35.78,-6.74 35.78,-4.81 36.33,-2.10 37.54,-0.24 37.81,-0.03 39.36,0.48 40.70,0.52 40.94,0.48 42.66,-0.14 43.86,-1.89 44.00,-2.23 44.52,-4.81 44.52,-6.74 43.97,-9.45 42.76,-11.31 42.49,-11.52 40.94,-12.03ZM39.70,-11.03 40.60,-11.03 41.42,-10.62 41.97,-10.07 42.42,-9.18 42.93,-6.60 42.93,-4.95 42.42,-2.37 41.97,-1.48 41.42,-0.93 40.60,-0.52 39.70,-0.52 38.88,-0.93 38.33,-1.48 37.88,-2.37 37.37,-4.95 37.37,-6.60 37.88,-9.18 38.33,-10.07 38.88,-10.62ZM26.26,-11.52 26.02,-11.38 25.47,-10.83 24.82,-9.52 24.82,-8.63 24.92,-8.42 25.47,-7.87 25.85,-7.73 26.23,-7.87 26.78,-8.42 26.92,-8.80 26.78,-9.18 26.23,-9.73 26.09,-9.80 26.23,-10.07 26.71,-10.55 28.12,-11.03 30.15,-11.03 30.97,-10.62 31.52,-10.07 31.93,-9.25 31.93,-8.35 31.52,-7.53 30.08,-6.53 26.57,-4.78 25.47,-3.68 25.33,-3.44 24.82,-1.89 24.82,0.17 24.89,0.31 25.13,0.48 25.30,0.52 25.61,0.41 25.71,0.31 25.82,0.00 25.82,-0.86 26.09,-1.13 26.81,-1.13 29.53,0.48 32.07,0.48 32.28,0.38 32.83,-0.17 33.48,-1.48 33.52,-2.75 33.41,-3.06 33.17,-3.23 32.83,-3.23 32.59,-3.06 32.48,-2.75 32.48,-1.89 32.07,-1.48 31.25,-1.07 29.80,-1.07 27.19,-2.13 26.02,-2.20 26.30,-2.99 27.33,-4.02 28.22,-4.47 30.87,-5.50 32.76,-6.74 32.93,-6.94 33.48,-8.08 33.52,-9.35 33.45,-9.62 32.83,-10.83 32.28,-11.38 32.04,-11.52 30.49,-12.03 28.05,-12.07Z"/>
<path transform="translate(344.31,70.20) scale(0.9586,1)" fill="#000" fill-rule="evenodd" d="M17.60,-8.22 15.81,-7.67 15.57,-7.53 14.47,-6.43 14.33,-6.19 13.82,-4.64 13.78,-3.30 14.33,-1.51 14.47,-1.27 15.57,-0.17 15.81,-0.03 17.36,0.48 18.70,0.52 20.49,-0.03 20.73,-0.17 21.83,-1.27 21.97,-1.65 21.86,-1.96 21.62,-2.13 21.28,-2.13 21.07,-2.03 19.97,-0.96 18.63,-0.52 17.70,-0.52 16.88,-0.93 15.85,-1.96 15.37,-3.37 15.37,-3.85 21.62,-3.92 21.76,-3.99 21.93,-4.23 21.97,-5.50 21.90,-5.78 21.28,-6.98 20.73,-7.53 19.42,-8.18ZM15.57,-4.95 15.85,-5.74 16.88,-6.77 17.70,-7.18 19.15,-7.18 19.90,-6.81 20.38,-5.95 20.35,-4.92ZM23.48,-12.03 23.34,-11.96 23.17,-11.72 23.17,-11.38 23.24,-11.24 23.48,-11.07 24.34,-11.03 24.41,-10.97 28.08,0.14 28.29,0.41 28.60,0.52 28.91,0.41 29.12,0.14 32.79,-10.97 32.86,-11.03 33.55,-11.03 33.86,-11.14 34.03,-11.38 34.03,-11.72 33.86,-11.96 33.55,-12.07 30.25,-12.07 30.08,-12.03 29.84,-11.86 29.73,-11.55 29.84,-11.24 30.08,-11.07 31.73,-11.00 28.88,-2.51 26.02,-11.00 26.95,-11.03 27.26,-11.14 27.36,-11.24 27.47,-11.55 27.36,-11.86 27.26,-11.96 26.95,-12.07ZM3.71,-11.52 3.47,-11.38 2.37,-10.28 1.68,-8.94 1.17,-7.39 1.17,-4.16 1.68,-2.61 2.37,-1.27 3.47,-0.17 3.71,-0.03 5.26,0.48 6.84,0.48 8.39,-0.03 8.80,-0.34 8.87,0.17 9.04,0.41 9.35,0.52 9.62,0.41 9.90,0.52 10.21,0.41 10.31,0.31 10.42,0.00 10.42,-3.85 11.55,-3.88 11.86,-3.99 11.96,-4.09 12.07,-4.40 11.96,-4.71 11.86,-4.81 11.55,-4.92 7.70,-4.92 7.39,-4.81 7.29,-4.71 7.18,-4.40 7.22,-4.23 7.39,-3.99 7.70,-3.88 8.83,-3.85 8.83,-1.89 7.87,-0.96 6.53,-0.52 5.60,-0.52 4.78,-0.93 3.68,-2.03 3.23,-2.92 2.72,-4.47 2.72,-7.08 3.23,-8.63 3.68,-9.52 4.78,-10.62 5.60,-11.03 6.53,-11.03 7.94,-10.55 8.90,-9.59 9.49,-7.94 9.59,-7.84 9.90,-7.73 10.21,-7.84 10.31,-7.94 10.42,-8.25 10.42,-11.55 10.31,-11.86 10.21,-11.96 9.90,-12.07 9.59,-11.96 9.38,-11.69 9.11,-10.90 8.63,-11.38 8.39,-11.52 6.60,-12.07 5.26,-12.03Z"/>
<path transform="translate(388.20,70.20) scale(0.600)" stroke="#000" stroke-width="2.08" fill="none" stroke-linecap="round" stroke-linejoin="round" d="M1,-10 C2,-13 3.5,-14 5,-14 C7,-14 7.2,-12 6.6,-10 L3.5,0 M6.3,-9 C8,-12 10.5,-14 13,-14 C15.5,-14 16,-12 15.4,-9.5 L12,5.5"/>
<path transform="translate(400.14,70.20) scale(0.9860,1)" fill="#000" fill-rule="evenodd" d="M1.68,-3.30 1.79,-2.99 1.89,-2.89 2.20,-2.78 12.10,-2.78 12.41,-2.89 12.51,-2.99 12.62,-3.30 12.51,-3.61 12.41,-3.71 12.10,-3.82 2.20,-3.82 1.89,-3.71 1.79,-3.61ZM1.68,-6.60 1.79,-6.29 1.89,-6.19 2.20,-6.08 12.10,-6.08 12.41,-6.19 12.51,-6.29 12.62,-6.60 12.51,-6.91 12.41,-7.01 12.10,-7.12 2.20,-7.12 1.89,-7.01 1.79,-6.91ZM19.25,-12.07 19.01,-12.03 17.29,-11.41 16.09,-9.66 15.95,-9.32 15.43,-6.74 15.43,-4.81 15.98,-2.10 17.19,-0.24 17.46,-0.03 19.01,0.48 20.35,0.52 20.59,0.48 22.31,-0.14 23.51,-1.89 23.65,-2.23 24.17,-4.81 24.17,-6.74 23.62,-9.45 22.41,-11.31 22.14,-11.52 20.59,-12.03ZM19.35,-11.03 20.25,-11.03 21.07,-10.62 21.62,-10.07 22.07,-9.18 22.58,-6.60 22.58,-4.95 22.07,-2.37 21.62,-1.48 21.07,-0.93 20.25,-0.52 19.35,-0.52 18.53,-0.93 17.98,-1.48 17.53,-2.37 17.02,-4.95 17.02,-6.60 17.53,-9.18 17.98,-10.07 18.53,-10.62Z"/>
<circle cx="176.7" cy="298.7" r="5.2" fill="#000"/>
<line x1="153.2" y1="322.1" x2="200" y2="322.1" stroke="#0000ff" stroke-width="1.1"/>
<line x1="153.2" y1="345.3" x2="200" y2="345.3" stroke="#ff0000" stroke-width="1.1" stroke-dasharray="6.3,3.8"/>
<path transform="translate(217.30,304.30) scale(0.690)" stroke="#000" stroke-width="2.17" fill="none" stroke-linecap="round" stroke-linejoin="round" d="M1,-10.5 C2.5,-13.5 4,-14 6,-14 H19 M8.5,-14 L4.5,0 M14.5,-14 L15,0"/>
<path transform="translate(232.44,297.30) scale(0.9865,1)" fill="#000" fill-rule="evenodd" d="M3.69,-9.17 2.18,-8.69 1.95,-8.46 1.18,-7.30 1.08,-7.07 0.67,-5.02 0.67,-3.59 1.08,-1.54 2.05,-0.03 2.33,0.15 3.48,0.54 4.51,0.56 6.02,0.08 6.25,-0.15 7.02,-1.31 7.12,-1.54 7.53,-3.59 7.53,-5.02 7.12,-7.07 6.15,-8.58 5.87,-8.76 4.71,-9.15ZM3.82,-8.05 4.38,-8.05 4.95,-7.76 5.30,-7.41 5.64,-6.71 6.00,-4.92 6.00,-3.69 5.61,-1.82 5.30,-1.20 4.95,-0.85 4.38,-0.56 3.82,-0.56 3.25,-0.85 2.90,-1.20 2.56,-1.90 2.20,-3.69 2.20,-4.92 2.59,-6.79 2.90,-7.41 3.25,-7.76Z"/>
<path transform="translate(250.36,304.00) scale(1.0072,1)" fill="#000" fill-rule="evenodd" d="M50.72,-10.88 50.62,-10.78 50.53,-10.50 50.62,-10.22 50.84,-10.06 51.72,-10.03 54.81,-5.03 51.75,-0.47 51.00,-0.47 50.72,-0.38 50.62,-0.28 50.53,0.00 50.62,0.28 50.72,0.38 51.00,0.47 54.00,0.47 54.28,0.38 54.38,0.28 54.47,0.00 54.44,-0.16 54.28,-0.38 54.00,-0.47 52.88,-0.50 55.34,-4.19 57.62,-0.53 57.59,-0.47 57.00,-0.47 56.72,-0.38 56.62,-0.28 56.53,0.00 56.56,0.16 56.72,0.38 57.00,0.47 60.00,0.47 60.28,0.38 60.38,0.28 60.47,0.00 60.38,-0.28 60.16,-0.44 59.28,-0.47 56.19,-5.47 59.25,-10.03 60.00,-10.03 60.28,-10.12 60.38,-10.22 60.47,-10.50 60.38,-10.78 60.28,-10.88 60.00,-10.97 57.00,-10.97 56.72,-10.88 56.62,-10.78 56.53,-10.50 56.56,-10.34 56.72,-10.12 57.00,-10.03 58.12,-10.00 55.66,-6.31 53.38,-9.97 53.41,-10.03 54.00,-10.03 54.28,-10.12 54.38,-10.22 54.47,-10.50 54.44,-10.66 54.28,-10.88 54.00,-10.97 51.00,-10.97ZM45.84,-10.94 45.62,-10.78 45.53,-10.50 45.56,-10.34 45.72,-10.12 46.00,-10.03 47.03,-10.00 47.03,-0.50 45.84,-0.44 45.72,-0.38 45.56,-0.16 45.56,0.16 45.72,0.38 46.00,0.47 49.66,0.44 49.88,0.28 49.97,0.00 49.94,-0.16 49.78,-0.38 49.50,-0.47 48.47,-0.50 48.47,-10.00 49.66,-10.06 49.78,-10.12 49.94,-10.34 49.94,-10.66 49.78,-10.88 49.50,-10.97ZM34.22,-10.88 34.12,-10.78 34.03,-10.50 34.06,-10.34 34.22,-10.12 34.50,-10.03 35.53,-10.00 35.53,-0.50 34.50,-0.47 34.22,-0.38 34.12,-0.28 34.03,0.00 34.12,0.28 34.22,0.38 34.50,0.47 37.50,0.47 37.78,0.38 37.94,0.16 37.94,-0.16 37.88,-0.28 37.66,-0.44 36.47,-0.50 36.50,-8.62 42.09,0.25 42.22,0.38 42.50,0.47 42.78,0.38 42.88,0.28 42.97,0.00 42.97,-10.00 44.00,-10.03 44.28,-10.12 44.38,-10.22 44.47,-10.50 44.38,-10.78 44.28,-10.88 44.00,-10.97 41.00,-10.97 40.72,-10.88 40.56,-10.66 40.56,-10.34 40.62,-10.22 40.84,-10.06 42.03,-10.00 42.00,-2.69 36.91,-10.75 36.78,-10.88 36.50,-10.97 34.50,-10.97ZM23.72,-10.88 23.62,-10.78 23.53,-10.50 23.56,-10.34 23.72,-10.12 24.00,-10.03 25.03,-10.00 25.03,-0.50 24.00,-0.47 23.72,-0.38 23.62,-0.28 23.53,0.00 23.62,0.28 23.72,0.38 24.00,0.47 32.00,0.47 32.28,0.38 32.38,0.28 32.47,0.00 32.47,-3.00 32.38,-3.28 32.28,-3.38 32.00,-3.47 31.72,-3.38 31.53,-3.06 31.09,-0.47 26.47,-0.50 26.47,-5.00 28.50,-5.03 28.53,-3.50 28.62,-3.22 28.84,-3.06 29.16,-3.06 29.38,-3.22 29.47,-3.50 29.44,-7.66 29.28,-7.88 29.00,-7.97 28.84,-7.94 28.62,-7.78 28.53,-7.50 28.50,-5.97 26.50,-5.97 26.47,-10.00 31.09,-10.03 31.53,-7.44 31.72,-7.12 32.00,-7.03 32.28,-7.12 32.38,-7.22 32.47,-7.50 32.47,-10.50 32.38,-10.78 32.28,-10.88 32.00,-10.97 24.00,-10.97ZM11.72,-10.88 11.62,-10.78 11.53,-10.50 11.56,-10.34 11.72,-10.12 12.00,-10.03 13.03,-10.00 13.03,-0.50 12.00,-0.47 11.72,-0.38 11.62,-0.28 11.53,0.00 11.62,0.28 11.72,0.38 12.00,0.47 15.50,0.47 15.66,0.44 15.88,0.28 15.97,0.00 15.94,-0.16 15.78,-0.38 15.50,-0.47 14.47,-0.50 14.50,-5.03 19.50,-5.03 19.53,-0.50 18.50,-0.47 18.22,-0.38 18.12,-0.28 18.03,0.00 18.12,0.28 18.22,0.38 18.50,0.47 22.00,0.47 22.28,0.38 22.38,0.28 22.47,0.00 22.44,-0.16 22.28,-0.38 22.00,-0.47 20.97,-0.50 20.97,-10.00 22.00,-10.03 22.28,-10.12 22.38,-10.22 22.47,-10.50 22.38,-10.78 22.28,-10.88 22.00,-10.97 18.50,-10.97 18.34,-10.94 18.12,-10.78 18.03,-10.50 18.06,-10.34 18.22,-10.12 18.50,-10.03 19.53,-10.00 19.50,-5.97 14.50,-5.97 14.47,-10.00 15.50,-10.03 15.78,-10.12 15.88,-10.22 15.97,-10.50 15.88,-10.78 15.78,-10.88 15.50,-10.97 12.00,-10.97ZM0.84,-10.94 0.62,-10.78 0.53,-10.50 0.56,-10.34 0.72,-10.12 1.00,-10.03 2.03,-10.00 2.03,-0.50 0.84,-0.44 0.72,-0.38 0.56,-0.16 0.56,0.16 0.72,0.38 1.00,0.47 4.66,0.44 4.88,0.28 4.97,0.00 4.94,-0.16 4.78,-0.38 4.50,-0.47 3.47,-0.50 3.47,-4.50 7.00,-4.53 8.62,-5.03 8.84,-5.16 9.34,-5.66 9.94,-6.84 9.97,-8.50 9.91,-8.75 9.34,-9.84 8.84,-10.34 8.62,-10.47 7.22,-10.94ZM3.47,-10.00 6.91,-10.03 7.66,-9.66 8.16,-9.16 8.53,-8.41 8.53,-7.09 8.16,-6.34 7.66,-5.84 6.91,-5.47 3.50,-5.47Z"/>
<path transform="translate(215.74,327.60) scale(1.0408,1)" fill="#0000ff" fill-rule="evenodd" d="M10.00,-9.50 9.56,-9.34 1.78,-4.97 1.59,-4.78 1.50,-4.50 1.59,-4.22 1.78,-4.03 9.56,0.34 10.00,0.50 10.28,0.41 10.47,0.16 10.47,-0.16 10.22,-0.47 3.03,-4.50 10.22,-8.53 10.47,-8.84 10.47,-9.16 10.28,-9.41Z"/>
<path transform="translate(228.33,328.10) scale(0.9257,1)" fill="#0000ff" fill-rule="evenodd" d="M0.73,-11.12 0.61,-11.00 0.51,-10.71 0.61,-10.42 0.73,-10.30 1.02,-10.20 2.04,-10.17 2.04,-0.54 1.02,-0.51 0.73,-0.41 0.61,-0.29 0.51,0.00 0.61,0.29 0.73,0.41 1.02,0.51 4.59,0.51 4.88,0.41 5.00,0.29 5.10,0.00 5.00,-0.29 4.88,-0.41 4.59,-0.51 3.57,-0.54 3.57,-1.85 5.04,-3.28 7.11,-0.54 6.47,-0.48 6.22,-0.29 6.12,0.00 6.22,0.29 6.34,0.41 6.63,0.51 9.69,0.51 9.98,0.41 10.10,0.29 10.20,0.00 10.10,-0.29 9.98,-0.41 9.69,-0.51 8.96,-0.51 6.06,-4.33 8.35,-6.63 9.69,-6.63 9.98,-6.73 10.10,-6.85 10.20,-7.14 10.10,-7.43 9.98,-7.55 9.69,-7.65 6.63,-7.65 6.34,-7.55 6.22,-7.43 6.12,-7.14 6.22,-6.85 6.47,-6.66 6.92,-6.60 3.60,-3.28 3.54,-10.87 3.35,-11.12 3.06,-11.22 1.02,-11.22Z"/>
<path transform="translate(238.55,322.60) scale(1.0890,1)" fill="#0000ff" fill-rule="evenodd" d="M1.25,-5.88 0.75,-5.47 0.35,-4.75 0.35,-4.17 0.47,-3.98 0.82,-3.65 1.07,-3.58 1.23,-3.60 1.68,-3.98 1.80,-4.17 1.80,-4.47 1.50,-4.88 1.62,-5.00 2.23,-5.20 3.12,-5.20 3.52,-5.00 3.65,-4.88 3.85,-4.47 3.85,-4.15 3.67,-3.83 3.00,-3.38 1.43,-2.60 0.75,-1.98 0.62,-1.77 0.35,-0.95 0.35,0.15 0.55,0.40 0.80,0.47 0.95,0.45 1.25,0.15 1.27,-0.30 1.52,-0.33 2.83,0.45 4.20,0.45 4.40,0.33 4.75,-0.05 5.05,-0.65 5.05,-1.50 4.85,-1.75 4.60,-1.82 4.35,-1.75 4.15,-1.50 4.12,-1.02 3.70,-0.75 3.02,-0.75 1.82,-1.25 1.50,-1.27 1.48,-1.32 1.90,-1.77 2.45,-2.05 3.62,-2.50 4.58,-3.10 4.72,-3.25 5.05,-3.90 5.05,-4.75 4.75,-5.35 4.42,-5.70 4.15,-5.88 3.40,-6.12 2.15,-6.15Z"/>
<path transform="translate(238.38,332.80) scale(1.0000,1)" fill="#0000ff" fill-rule="evenodd" d="M0.35,-6.60 0.20,-6.45 0.12,-6.20 0.12,-4.42 0.20,-4.17 0.45,-3.98 0.75,-3.98 1.05,-4.28 1.27,-5.70 2.17,-5.70 2.17,-0.50 1.52,-0.40 1.32,-0.15 1.30,0.00 1.38,0.25 1.52,0.40 1.77,0.47 3.83,0.47 4.08,0.40 4.28,0.15 4.30,0.00 4.22,-0.25 3.98,-0.45 3.42,-0.50 3.42,-5.70 4.30,-5.72 4.58,-4.28 4.78,-4.03 5.03,-3.95 5.17,-3.98 5.42,-4.17 5.50,-4.42 5.50,-6.20 5.42,-6.45 5.28,-6.60 5.03,-6.67 0.60,-6.67Z"/>
<path transform="translate(244.81,327.60) scale(0.9965,1)" fill="#0000ff" fill-rule="evenodd" d="M2.00,-9.50 1.72,-9.41 1.53,-9.16 1.53,-8.84 1.78,-8.53 8.97,-4.50 1.78,-0.47 1.53,-0.16 1.53,0.16 1.72,0.41 2.00,0.50 2.44,0.34 10.22,-4.03 10.41,-4.22 10.50,-4.50 10.41,-4.78 10.22,-4.97 2.44,-9.34Z"/>
<path transform="translate(256.64,328.10) scale(0.9636,1)" fill="#0000ff" fill-rule="evenodd" d="M27.03,-1.56 26.67,-1.42 26.14,-0.89 26.00,-0.53 26.14,-0.17 26.67,0.36 27.03,0.50 27.39,0.36 27.92,-0.17 28.06,-0.53 27.92,-0.89 27.39,-1.42ZM1.62,-3.18 1.72,-2.88 1.82,-2.78 2.12,-2.68 11.66,-2.68 11.96,-2.78 12.06,-2.88 12.16,-3.18 12.06,-3.48 11.96,-3.58 11.66,-3.68 2.12,-3.68 1.82,-3.58 1.72,-3.48ZM1.62,-6.36 1.72,-6.06 1.82,-5.96 2.12,-5.86 11.66,-5.86 11.96,-5.96 12.06,-6.06 12.16,-6.36 12.06,-6.66 11.96,-6.76 11.66,-6.86 2.12,-6.86 1.82,-6.76 1.72,-6.66ZM76.32,-7.92 74.60,-7.39 74.37,-7.25 73.31,-6.19 73.17,-5.96 72.68,-4.47 72.64,-3.18 73.17,-1.46 73.31,-1.23 74.37,-0.17 74.60,-0.03 76.09,0.46 77.38,0.50 79.10,-0.03 79.33,-0.17 80.39,-1.23 80.53,-1.59 80.43,-1.89 80.20,-2.05 79.86,-2.05 79.67,-1.95 78.61,-0.93 77.31,-0.50 76.42,-0.50 75.62,-0.89 74.63,-1.89 74.17,-3.25 74.17,-3.71 80.20,-3.78 80.33,-3.84 80.49,-4.07 80.53,-5.30 80.46,-5.57 79.86,-6.72 79.33,-7.25 78.08,-7.88ZM74.37,-4.77 74.63,-5.53 75.62,-6.53 76.42,-6.92 77.81,-6.92 78.54,-6.56 79.00,-5.73 78.97,-4.74ZM81.98,-11.59 81.85,-11.53 81.69,-11.30 81.69,-10.96 81.75,-10.83 81.98,-10.67 82.81,-10.63 82.88,-10.57 86.42,0.13 86.62,0.40 86.92,0.50 87.22,0.40 87.42,0.13 90.96,-10.57 91.03,-10.63 91.69,-10.63 91.99,-10.73 92.15,-10.96 92.15,-11.30 91.99,-11.53 91.69,-11.63 88.51,-11.63 88.34,-11.59 88.11,-11.43 88.01,-11.13 88.11,-10.83 88.34,-10.67 89.93,-10.60 87.19,-2.42 84.44,-10.60 85.33,-10.63 85.63,-10.73 85.73,-10.83 85.83,-11.13 85.73,-11.43 85.63,-11.53 85.33,-11.63ZM62.94,-11.10 62.71,-10.96 61.65,-9.90 60.98,-8.61 60.49,-7.12 60.49,-4.01 60.98,-2.52 61.65,-1.23 62.71,-0.17 62.94,-0.03 64.43,0.46 65.95,0.46 67.44,-0.03 67.84,-0.33 67.91,0.17 68.07,0.40 68.37,0.50 68.64,0.40 68.90,0.50 69.20,0.40 69.30,0.30 69.40,0.00 69.40,-3.71 70.49,-3.74 70.79,-3.84 70.89,-3.94 70.99,-4.24 70.89,-4.54 70.79,-4.64 70.49,-4.74 66.78,-4.74 66.48,-4.64 66.38,-4.54 66.28,-4.24 66.32,-4.07 66.48,-3.84 66.78,-3.74 67.87,-3.71 67.87,-1.82 66.95,-0.93 65.65,-0.50 64.76,-0.50 63.96,-0.89 62.90,-1.95 62.47,-2.82 61.98,-4.31 61.98,-6.82 62.47,-8.31 62.90,-9.18 63.96,-10.24 64.76,-10.63 65.65,-10.63 67.01,-10.17 67.94,-9.24 68.50,-7.65 68.60,-7.55 68.90,-7.45 69.20,-7.55 69.30,-7.65 69.40,-7.95 69.40,-11.13 69.30,-11.43 69.20,-11.53 68.90,-11.63 68.60,-11.53 68.40,-11.26 68.14,-10.50 67.67,-10.96 67.44,-11.10 65.72,-11.63 64.43,-11.59ZM42.80,-11.10 42.57,-10.96 42.04,-10.43 41.41,-9.18 41.41,-8.31 41.51,-8.12 42.04,-7.59 42.40,-7.45 42.76,-7.59 43.29,-8.12 43.43,-8.48 43.29,-8.84 42.63,-9.44 42.76,-9.71 43.23,-10.17 44.59,-10.63 46.54,-10.63 47.34,-10.24 47.87,-9.71 48.26,-8.91 48.26,-8.05 47.77,-7.16 46.47,-6.29 43.10,-4.60 42.04,-3.54 41.90,-3.31 41.41,-1.82 41.41,0.17 41.47,0.30 41.70,0.46 41.87,0.50 42.17,0.40 42.27,0.30 42.37,0.00 42.37,-0.83 42.63,-1.09 43.33,-1.09 45.94,0.46 48.40,0.46 48.59,0.36 49.12,-0.17 49.75,-1.42 49.79,-2.65 49.69,-2.95 49.46,-3.11 49.12,-3.11 48.89,-2.95 48.79,-2.65 48.79,-1.82 48.40,-1.42 47.60,-1.03 46.21,-1.03 43.69,-2.05 42.57,-2.12 42.83,-2.88 43.82,-3.88 44.69,-4.31 47.24,-5.30 49.06,-6.49 49.22,-6.69 49.75,-7.78 49.79,-9.01 49.72,-9.28 49.12,-10.43 48.59,-10.96 48.36,-11.10 46.87,-11.59 44.52,-11.63ZM32.16,-11.59 31.93,-11.43 31.80,-11.10 30.77,-5.96 30.87,-5.53 31.10,-5.37 31.44,-5.37 31.63,-5.47 32.63,-6.46 33.99,-6.92 35.41,-6.92 36.21,-6.53 37.20,-5.53 37.66,-4.17 37.66,-3.25 37.20,-1.89 36.21,-0.89 35.41,-0.50 33.99,-0.50 32.63,-0.96 32.16,-1.42 32.03,-1.69 32.69,-2.29 32.83,-2.65 32.69,-3.01 32.16,-3.54 31.80,-3.68 31.44,-3.54 30.91,-3.01 30.77,-2.65 30.77,-2.12 30.84,-1.86 31.44,-0.70 31.97,-0.17 32.20,-0.03 33.69,0.46 35.51,0.50 37.23,-0.03 37.46,-0.17 38.52,-1.23 38.66,-1.46 39.15,-2.95 39.15,-4.47 38.66,-5.96 38.52,-6.19 37.46,-7.25 37.23,-7.39 35.74,-7.88 33.92,-7.92 33.69,-7.88 32.13,-7.32 32.10,-7.49 32.66,-10.10 35.11,-10.10 37.60,-10.60 37.93,-10.73 38.03,-10.83 38.13,-11.13 38.09,-11.30 37.93,-11.53 37.63,-11.63ZM18.55,-11.63 18.32,-11.59 16.66,-11.00 15.50,-9.31 15.37,-8.98 14.87,-6.49 14.87,-4.64 15.40,-2.02 16.56,-0.23 16.83,-0.03 18.32,0.46 19.61,0.50 19.84,0.46 21.50,-0.13 22.66,-1.82 22.79,-2.15 23.29,-4.64 23.29,-6.49 22.76,-9.11 21.60,-10.90 21.33,-11.10 19.84,-11.59ZM18.65,-10.63 19.51,-10.63 20.31,-10.24 20.84,-9.71 21.27,-8.84 21.76,-6.36 21.76,-4.77 21.27,-2.29 20.84,-1.42 20.31,-0.89 19.51,-0.50 18.65,-0.50 17.85,-0.89 17.32,-1.42 16.89,-2.29 16.40,-4.77 16.40,-6.36 16.89,-8.84 17.32,-9.71 17.85,-10.24Z"/>
<path transform="translate(346.30,322.70) scale(1.0000,1)" fill="#0000ff" fill-rule="evenodd" d="M1.40,-6.50 1.20,-6.40 0.80,-6.00 0.42,-5.25 0.42,-4.65 0.50,-4.50 0.90,-4.10 1.05,-4.03 1.35,-4.03 1.50,-4.10 1.90,-4.50 1.98,-4.65 1.98,-4.95 1.60,-5.40 1.77,-5.58 2.45,-5.80 3.50,-5.80 3.90,-5.60 4.10,-5.40 4.30,-5.00 4.30,-4.60 4.05,-4.20 3.30,-3.70 1.57,-2.85 0.80,-2.10 0.42,-1.07 0.42,0.15 0.60,0.40 0.75,0.47 1.05,0.47 1.20,0.40 1.38,0.15 1.40,-0.38 1.68,-0.40 3.15,0.47 4.65,0.47 4.80,0.40 5.20,0.00 5.58,-0.75 5.60,-1.50 5.58,-1.65 5.40,-1.90 5.10,-2.00 4.80,-1.90 4.62,-1.65 4.60,-1.10 4.10,-0.80 3.38,-0.80 2.05,-1.35 1.62,-1.40 1.60,-1.45 2.10,-2.00 4.03,-2.80 5.05,-3.45 5.25,-3.67 5.58,-4.35 5.60,-5.10 5.55,-5.33 5.20,-6.00 4.80,-6.40 3.77,-6.78 2.40,-6.80Z"/>
<path transform="translate(215.74,350.50) scale(1.0408,1)" fill="#ff0000" fill-rule="evenodd" d="M10.00,-9.50 9.56,-9.34 1.78,-4.97 1.59,-4.78 1.50,-4.50 1.59,-4.22 1.78,-4.03 9.56,0.34 10.00,0.50 10.28,0.41 10.47,0.16 10.47,-0.16 10.22,-0.47 3.03,-4.50 10.22,-8.53 10.47,-8.84 10.47,-9.16 10.28,-9.41Z"/>
<path transform="translate(228.33,351.00) scale(0.9257,1)" fill="#ff0000" fill-rule="evenodd" d="M0.73,-11.12 0.61,-11.00 0.51,-10.71 0.61,-10.42 0.73,-10.30 1.02,-10.20 2.04,-10.17 2.04,-0.54 1.02,-0.51 0.73,-0.41 0.61,-0.29 0.51,0.00 0.61,0.29 0.73,0.41 1.02,0.51 4.59,0.51 4.88,0.41 5.00,0.29 5.10,0.00 5.00,-0.29 4.88,-0.41 4.59,-0.51 3.57,-0.54 3.57,-1.85 5.04,-3.28 7.11,-0.54 6.47,-0.48 6.22,-0.29 6.12,0.00 6.22,0.29 6.34,0.41 6.63,0.51 9.69,0.51 9.98,0.41 10.10,0.29 10.20,0.00 10.10,-0.29 9.98,-0.41 9.69,-0.51 8.96,-0.51 6.06,-4.33 8.35,-6.63 9.69,-6.63 9.98,-6.73 10.10,-6.85 10.20,-7.14 10.10,-7.43 9.98,-7.55 9.69,-7.65 6.63,-7.65 6.34,-7.55 6.22,-7.43 6.12,-7.14 6.22,-6.85 6.47,-6.66 6.92,-6.60 3.60,-3.28 3.54,-10.87 3.35,-11.12 3.06,-11.22 1.02,-11.22Z"/>
<path transform="translate(238.55,345.50) scale(1.0890,1)" fill="#ff0000" fill-rule="evenodd" d="M1.25,-5.88 0.75,-5.47 0.35,-4.75 0.35,-4.17 0.47,-3.98 0.82,-3.65 1.07,-3.58 1.23,-3.60 1.68,-3.98 1.80,-4.17 1.80,-4.47 1.50,-4.88 1.62,-5.00 2.23,-5.20 3.12,-5.20 3.52,-5.00 3.65,-4.88 3.85,-4.47 3.85,-4.15 3.67,-3.83 3.00,-3.38 1.43,-2.60 0.75,-1.98 0.62,-1.77 0.35,-0.95 0.35,0.15 0.55,0.40 0.80,0.47 0.95,0.45 1.25,0.15 1.27,-0.30 1.52,-0.33 2.83,0.45 4.20,0.45 4.40,0.33 4.75,-0.05 5.05,-0.65 5.05,-1.50 4.85,-1.75 4.60,-1.82 4.35,-1.75 4.15,-1.50 4.12,-1.02 3.70,-0.75 3.02,-0.75 1.82,-1.25 1.50,-1.27 1.48,-1.32 1.90,-1.77 2.45,-2.05 3.62,-2.50 4.58,-3.10 4.72,-3.25 5.05,-3.90 5.05,-4.75 4.75,-5.35 4.42,-5.70 4.15,-5.88 3.40,-6.12 2.15,-6.15Z"/>
<path transform="translate(238.38,355.70) scale(1.0000,1)" fill="#ff0000" fill-rule="evenodd" d="M0.35,-6.60 0.20,-6.45 0.12,-6.20 0.12,-4.42 0.20,-4.17 0.45,-3.98 0.75,-3.98 1.05,-4.28 1.27,-5.70 2.17,-5.70 2.17,-0.50 1.52,-0.40 1.32,-0.15 1.30,0.00 1.38,0.25 1.52,0.40 1.77,0.47 3.83,0.47 4.08,0.40 4.28,0.15 4.30,0.00 4.22,-0.25 3.98,-0.45 3.42,-0.50 3.42,-5.70 4.30,-5.72 4.58,-4.28 4.78,-4.03 5.03,-3.95 5.17,-3.98 5.42,-4.17 5.50,-4.42 5.50,-6.20 5.42,-6.45 5.28,-6.60 5.03,-6.67 0.60,-6.67Z"/>
<path transform="translate(244.81,350.50) scale(0.9965,1)" fill="#ff0000" fill-rule="evenodd" d="M2.00,-9.50 1.72,-9.41 1.53,-9.16 1.53,-8.84 1.78,-8.53 8.97,-4.50 1.78,-0.47 1.53,-0.16 1.53,0.16 1.72,0.41 2.00,0.50 2.44,0.34 10.22,-4.03 10.41,-4.22 10.50,-4.50 10.41,-4.78 10.22,-4.97 2.44,-9.34Z"/>
<path transform="translate(256.65,351.00) scale(0.9564,1)" fill="#ff0000" fill-rule="evenodd" d="M1.62,-3.18 1.72,-2.88 1.82,-2.78 2.12,-2.68 11.66,-2.68 11.96,-2.78 12.06,-2.88 12.16,-3.18 12.06,-3.48 11.96,-3.58 11.66,-3.68 2.12,-3.68 1.82,-3.58 1.72,-3.48ZM1.62,-6.36 1.72,-6.06 1.82,-5.96 2.12,-5.86 11.66,-5.86 11.96,-5.96 12.06,-6.06 12.16,-6.36 12.06,-6.66 11.96,-6.76 11.66,-6.86 2.12,-6.86 1.82,-6.76 1.72,-6.66ZM49.82,-7.92 48.10,-7.39 47.87,-7.25 46.81,-6.19 46.67,-5.96 46.18,-4.47 46.14,-3.18 46.67,-1.46 46.81,-1.23 47.87,-0.17 48.10,-0.03 49.59,0.46 50.88,0.50 52.60,-0.03 52.83,-0.17 53.89,-1.23 54.03,-1.59 53.93,-1.89 53.70,-2.05 53.36,-2.05 53.17,-1.95 52.11,-0.93 50.81,-0.50 49.92,-0.50 49.12,-0.89 48.13,-1.89 47.67,-3.25 47.67,-3.71 53.70,-3.78 53.83,-3.84 53.99,-4.07 54.03,-5.30 53.96,-5.57 53.36,-6.72 52.83,-7.25 51.58,-7.88ZM47.87,-4.77 48.13,-5.53 49.12,-6.53 49.92,-6.92 51.31,-6.92 52.04,-6.56 52.50,-5.73 52.47,-4.74ZM55.48,-11.59 55.35,-11.53 55.19,-11.30 55.19,-10.96 55.25,-10.83 55.48,-10.67 56.31,-10.63 56.38,-10.57 59.92,0.13 60.12,0.40 60.42,0.50 60.72,0.40 60.92,0.13 64.46,-10.57 64.53,-10.63 65.19,-10.63 65.49,-10.73 65.65,-10.96 65.65,-11.30 65.49,-11.53 65.19,-11.63 62.01,-11.63 61.84,-11.59 61.61,-11.43 61.51,-11.13 61.61,-10.83 61.84,-10.67 63.43,-10.60 60.69,-2.42 57.94,-10.60 58.83,-10.63 59.13,-10.73 59.23,-10.83 59.33,-11.13 59.23,-11.43 59.13,-11.53 58.83,-11.63ZM36.44,-11.10 36.21,-10.96 35.15,-9.90 34.48,-8.61 33.99,-7.12 33.99,-4.01 34.48,-2.52 35.15,-1.23 36.21,-0.17 36.44,-0.03 37.93,0.46 39.45,0.46 40.94,-0.03 41.34,-0.33 41.41,0.17 41.57,0.40 41.87,0.50 42.14,0.40 42.40,0.50 42.70,0.40 42.80,0.30 42.90,0.00 42.90,-3.71 43.99,-3.74 44.29,-3.84 44.39,-3.94 44.49,-4.24 44.39,-4.54 44.29,-4.64 43.99,-4.74 40.28,-4.74 39.98,-4.64 39.88,-4.54 39.78,-4.24 39.82,-4.07 39.98,-3.84 40.28,-3.74 41.37,-3.71 41.37,-1.82 40.45,-0.93 39.15,-0.50 38.26,-0.50 37.46,-0.89 36.40,-1.95 35.97,-2.82 35.48,-4.31 35.48,-6.82 35.97,-8.31 36.40,-9.18 37.46,-10.24 38.26,-10.63 39.15,-10.63 40.51,-10.17 41.44,-9.24 42.00,-7.65 42.10,-7.55 42.40,-7.45 42.70,-7.55 42.80,-7.65 42.90,-7.95 42.90,-11.13 42.80,-11.43 42.70,-11.53 42.40,-11.63 42.10,-11.53 41.90,-11.26 41.64,-10.50 41.17,-10.96 40.94,-11.10 39.22,-11.63 37.93,-11.59ZM18.55,-11.63 18.32,-11.59 16.66,-11.00 15.50,-9.31 15.37,-8.98 14.87,-6.49 14.87,-4.64 15.40,-2.02 16.56,-0.23 16.83,-0.03 18.32,0.46 19.61,0.50 19.84,0.46 21.50,-0.13 22.66,-1.82 22.79,-2.15 23.29,-4.64 23.29,-6.49 22.76,-9.11 21.60,-10.90 21.33,-11.10 19.84,-11.59ZM18.65,-10.63 19.51,-10.63 20.31,-10.24 20.84,-9.71 21.27,-8.84 21.76,-6.36 21.76,-4.77 21.27,-2.29 20.84,-1.42 20.31,-0.89 19.51,-0.50 18.65,-0.50 17.85,-0.89 17.32,-1.42 16.89,-2.29 16.40,-4.77 16.40,-6.36 16.89,-8.84 17.32,-9.71 17.85,-10.24Z"/>
<path transform="translate(320.30,345.60) scale(1.0000,1)" fill="#ff0000" fill-rule="evenodd" d="M1.40,-6.50 1.20,-6.40 0.80,-6.00 0.42,-5.25 0.42,-4.65 0.50,-4.50 0.90,-4.10 1.05,-4.03 1.35,-4.03 1.50,-4.10 1.90,-4.50 1.98,-4.65 1.98,-4.95 1.60,-5.40 1.77,-5.58 2.45,-5.80 3.50,-5.80 3.90,-5.60 4.10,-5.40 4.30,-5.00 4.30,-4.60 4.05,-4.20 3.30,-3.70 1.57,-2.85 0.80,-2.10 0.42,-1.07 0.42,0.15 0.60,0.40 0.75,0.47 1.05,0.47 1.20,0.40 1.38,0.15 1.40,-0.38 1.68,-0.40 3.15,0.47 4.65,0.47 4.80,0.40 5.20,0.00 5.58,-0.75 5.60,-1.50 5.58,-1.65 5.40,-1.90 5.10,-2.00 4.80,-1.90 4.62,-1.65 4.60,-1.10 4.10,-0.80 3.38,-0.80 2.05,-1.35 1.62,-1.40 1.60,-1.45 2.10,-2.00 4.03,-2.80 5.05,-3.45 5.25,-3.67 5.58,-4.35 5.60,-5.10 5.55,-5.33 5.20,-6.00 4.80,-6.40 3.77,-6.78 2.40,-6.80Z"/>
</svg></body></html>
